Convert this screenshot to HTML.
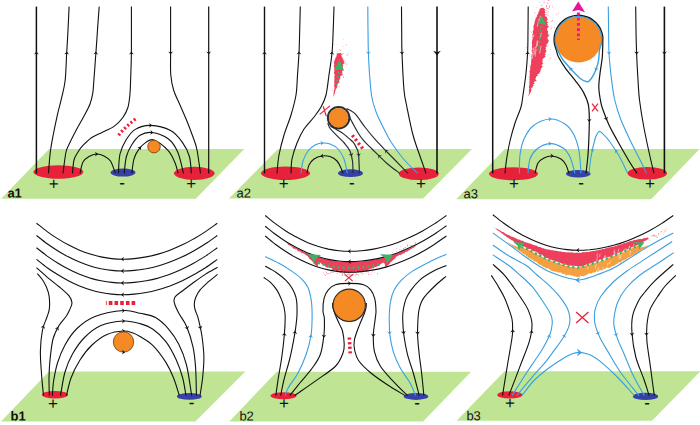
<!DOCTYPE html>
<html><head><meta charset="utf-8"><title>Figure</title>
<style>
html,body{margin:0;padding:0;background:#fff;}
body{width:700px;height:425px;overflow:hidden;}
svg{display:block;}
svg text{font-family:"Liberation Sans",sans-serif;fill:#111;text-rendering:geometricPrecision;}
</style></head><body>
<svg width="700" height="425" viewBox="0 0 700 425" stroke-linecap="butt" stroke-linejoin="round">
<rect width="700" height="425" fill="#fff"/>
<polygon points="1.2,198.7 49.1,149 244.3,149 195.8,198.7" fill="#bfe594"/>
<polygon points="228.9,198.6 278,149 472,149 423.1,198.6" fill="#bfe594"/>
<polygon points="456.2,199.2 504.9,149 699.6,149 651.2,199.2" fill="#bfe594"/>
<polygon points="1,421.4 49,371.4 245.4,371.4 195.4,421.4" fill="#bfe594"/>
<polygon points="229.3,421.4 276.8,371.8 471.1,371.8 423.1,421.4" fill="#bfe594"/>
<polygon points="456.6,420.8 504.5,371.2 700.5,371.2 652,420.8" fill="#bfe594"/>
<ellipse cx="58.4" cy="172" rx="25" ry="6.8" fill="#e8213a"/>
<ellipse cx="123" cy="172.6" rx="12.5" ry="4" fill="#3640a6"/>
<ellipse cx="194.3" cy="173.3" rx="20.3" ry="6.6" fill="#e8213a"/>
<ellipse cx="285.5" cy="173.3" rx="24.5" ry="6.7" fill="#e8213a"/>
<ellipse cx="350.5" cy="173.2" rx="12.5" ry="3.9" fill="#3640a6"/>
<ellipse cx="418.8" cy="173.8" rx="20" ry="6.3" fill="#e8213a"/>
<ellipse cx="513.5" cy="173.8" rx="24.5" ry="6.5" fill="#e8213a"/>
<ellipse cx="578.3" cy="173.7" rx="12.3" ry="3.8" fill="#3640a6"/>
<ellipse cx="647.3" cy="173.3" rx="19.7" ry="6.3" fill="#e8213a"/>
<ellipse cx="55" cy="394.8" rx="13" ry="3.8" fill="#e8213a"/>
<ellipse cx="189.3" cy="396.4" rx="12.4" ry="3.4" fill="#3640a6"/>
<ellipse cx="283.5" cy="395.7" rx="13" ry="3.5" fill="#e8213a"/>
<ellipse cx="416" cy="396.4" rx="12.3" ry="3.5" fill="#3640a6"/>
<ellipse cx="509.8" cy="394.9" rx="12.5" ry="3.6" fill="#e8213a"/>
<ellipse cx="645.5" cy="396.4" rx="12.6" ry="3.6" fill="#3640a6"/>
<path d="M36.4 6.6C36.4 14.3 36.4 25.2 36.4 53C36.4 80.8 36.4 153.3 36.4 173.4" fill="none" stroke="#111" stroke-width="1.5" />
<polygon points="36.4,51.4 34,54.5 36.4,53.5 38.8,54.5" fill="#111"/>
<path d="M69.1 6.6C68.9 10.5 68.4 22.3 68 30C67.6 37.7 67.2 44.7 66.7 53C66.2 61.3 66 72.6 65.2 80C64.4 87.4 63.1 91.5 61.8 97.2C60.5 102.9 58.9 108 57.5 114.3C56.1 120.6 54.4 128.7 53.2 135C52 141.3 51.1 145.6 50.3 152C49.5 158.4 48.8 169.8 48.5 173.4" fill="none" stroke="#111" stroke-width="1.1" />
<polygon points="66.8,51.4 64.2,54.4 66.7,53.5 69,54.6" fill="#111"/>
<path d="M99.2 6.6C98.9 10.5 98 22.3 97.5 30C97 37.7 96.5 44.7 95.9 53C95.3 61.3 94.4 73.2 93.9 80C93.4 86.8 93.4 89.7 92.7 93.7C92 97.7 91.3 100.6 90 104C88.7 107.4 87.3 110 85 114.3C82.7 118.6 79 124.9 76.4 129.8C73.8 134.7 71.2 139.8 69.5 143.5C67.8 147.2 67.1 147 66 152C64.9 157 63.5 169.8 63 173.4" fill="none" stroke="#111" stroke-width="1.1" />
<polygon points="96,51.4 93.4,54.3 95.9,53.5 98.2,54.7" fill="#111"/>
<path d="M131.4 6.6C131.4 14.3 131.5 40.8 131.4 53C131.3 65.2 130.8 73.2 130.6 80C130.4 86.8 130.4 89.1 130 93.7C129.6 98.3 129.1 103.5 127.9 107.5C126.7 111.5 125 114.6 122.7 117.8C120.4 121 117.5 124 114 126.4C110.5 128.8 105.7 130.6 102 132.4C98.3 134.2 94.9 135.4 91.8 137.5C88.7 139.6 85.5 142.8 83.2 145.2C80.9 147.6 79.5 149.5 78 152C76.5 154.5 74.9 156.4 74 160C73.1 163.6 72.8 171.2 72.5 173.4" fill="none" stroke="#111" stroke-width="1.1" />
<polygon points="131.4,51.4 129,54.5 131.4,53.5 133.8,54.5" fill="#111"/>
<path d="M170.6 6.6C170.6 14.3 170.6 41.6 170.6 53C170.6 64.4 170.3 68.8 170.8 75C171.3 81.2 172.1 85 173.6 90C175.1 95 177.8 100 180 105C182.2 110 184.3 114.7 186.5 120C188.7 125.3 191.2 132 193 137C194.8 142 195.8 143.9 197 150C198.2 156.1 199.9 169.5 200.5 173.4" fill="none" stroke="#111" stroke-width="1.1" />
<polygon points="170.6,54.6 173,51.5 170.6,52.5 168.2,51.5" fill="#111"/>
<path d="M208.7 6.6C208.7 14.3 208.7 25.2 208.7 53C208.7 80.8 208.7 153.3 208.7 173.4" fill="none" stroke="#111" stroke-width="1.2" />
<polygon points="208.7,54.6 211.1,51.5 208.7,52.5 206.3,51.5" fill="#111"/>
<path d="M80 173.4C80.5 171.5 81.5 164.8 83 162C84.5 159.2 86.8 157.8 89 156.5C91.2 155.2 94 154.1 96.5 154C99 153.9 101.7 154.8 104 156C106.3 157.2 108.6 158.1 110.5 161C112.4 163.9 114.6 171.3 115.4 173.4" fill="none" stroke="#111" stroke-width="1.1" />
<polygon points="98.1,153.9 94.9,151.7 96,154 95.1,156.4" fill="#111"/>
<path d="M118.4 173.4C118.7 170.2 118.7 159.6 120 154C121.3 148.4 123.5 144.1 126 140C128.6 135.9 131.2 131.8 135.3 129.4C139.4 127 144.7 125.2 150.6 125.4C156.5 125.6 165.3 127.8 170.6 130.6C175.9 133.4 179.3 138.1 182.4 142.4C185.5 146.7 187.9 151.3 189.4 156.5C190.9 161.7 191 170.6 191.3 173.4" fill="none" stroke="#111" stroke-width="1.1" />
<polygon points="152.2,125.5 149.2,123 150.1,125.4 149,127.7" fill="#111"/>
<path d="M124.2 173.4C124.6 170.6 125.1 161.3 126.4 156.5C127.7 151.7 129.5 148.2 131.8 144.7C134.1 141.2 136.7 137.3 140 135.3C143.3 133.3 147.1 131.9 151.8 132.5C156.5 133.1 163.9 135.6 168.2 138.8C172.5 142 175 146 177.6 151.8C180.2 157.6 182.5 169.8 183.5 173.4" fill="none" stroke="#111" stroke-width="1.1" />
<polygon points="153.4,132.7 150.6,129.9 151.3,132.4 150,134.7" fill="#111"/>
<path d="M131.8 173.4C132.2 171 132.8 162.8 134 158.8C135.2 154.8 136.8 152.1 138.8 149.4C140.8 146.7 143.4 144 145.9 142.4C148.4 140.8 150.3 138.6 154 140C157.7 141.4 164.6 146.7 168.2 150.6C171.8 154.5 173.7 159.7 175.3 163.5C176.9 167.3 177.6 171.8 178 173.4" fill="none" stroke="#111" stroke-width="1.1" />
<polygon points="141.1,146.5 137.3,147.4 139.7,148.2 141,150.5" fill="#111"/>
<circle cx="154" cy="146.6" r="6.3" fill="#f58a24" stroke="#6b3b12" stroke-width="0.8"/>
<path d="M118.6 135.2Q126.5 125.5 137 118" fill="none" stroke="#e8213a" stroke-width="3.2" stroke-dasharray="2 2.3"/>
<path d="M264.5 6.6C264.5 14.3 264.5 25.2 264.5 53C264.5 80.8 264.5 153.3 264.5 173.4" fill="none" stroke="#111" stroke-width="1.4" />
<polygon points="264.5,51.4 262.1,54.5 264.5,53.5 266.9,54.5" fill="#111"/>
<path d="M300.3 6.6C300.2 10.5 299.9 22.3 299.7 30C299.5 37.7 299.4 45.5 299 53C298.6 60.5 298 68 297.5 75C297 82 297.1 88.3 296 95C294.9 101.7 293 108.3 291 115C289 121.7 286 128.3 284 135C282 141.7 280.2 148.6 279 155C277.8 161.4 277.3 170.3 277 173.4" fill="none" stroke="#111" stroke-width="1.1" />
<polygon points="299.1,51.4 296.5,54.4 299,53.5 301.3,54.6" fill="#111"/>
<path d="M334 6.6C333.9 10.5 333.5 22.3 333.2 30C332.9 37.7 332.7 45.5 332 53C331.3 60.5 330 68 329 75C328 82 327.3 89.7 326 95C324.7 100.3 323 103.3 321 107C319 110.7 316.8 113.3 314 117C311.2 120.7 306.8 124.7 304 129C301.2 133.3 299 138 297 143C295 148 293 153.9 292 159C291 164.1 291.2 171 291 173.4" fill="none" stroke="#111" stroke-width="1.1" />
<polygon points="332.1,51.4 329.5,54.3 332,53.5 334.2,54.7" fill="#111"/>
<path d="M367.8 6.6C367.8 10.5 367.9 22.3 368 30C368.1 37.7 368.1 45.5 368.4 53C368.7 60.5 369 67.7 369.6 75C370.2 82.3 370.7 90.7 371.8 97C372.9 103.3 374.5 107.7 376.5 113C378.5 118.3 381.6 124.2 384 129C386.4 133.8 387.8 137 391 142C394.2 147 399.1 153.8 403.5 159C407.9 164.2 415.2 171 417.6 173.4" fill="none" stroke="#3a9fe0" stroke-width="1.1" />
<polygon points="368.5,54.6 370.7,51.4 368.4,52.5 365.9,51.6" fill="#3a9fe0"/>
<path d="M401.5 6.6C401.5 10.5 401.6 22.3 401.7 30C401.8 37.7 401.6 43 402 53C402.4 63 403.2 81.3 404 90C404.8 98.7 405 97.5 406.5 105C408 112.5 410.6 126 413 135C415.4 144 418.8 152.6 421 159C423.2 165.4 425.2 171 426 173.4" fill="none" stroke="#111" stroke-width="1.1" />
<polygon points="402.1,54.6 404.3,51.4 402,52.5 399.5,51.6" fill="#111"/>
<path d="M437 6.6C437 14.3 437 25.2 437 53C437 80.8 437 153.3 437 173.4" fill="none" stroke="#111" stroke-width="1.6" />
<polygon points="437,55.5 440.8,50.7 437,52.2 433.2,50.7" fill="#111"/>
<path d="M301 173.4C301.3 171.3 301.8 164.7 303 161C304.2 157.3 306 153.7 308 151C310 148.3 312.7 146.3 315 145C317.3 143.7 319.5 143.2 322 143C324.5 142.8 327.3 143 330 144C332.7 145 335.7 146.5 338 149C340.3 151.5 342.4 154.9 344 159C345.6 163.1 346.8 171 347.4 173.4" fill="none" stroke="#3a9fe0" stroke-width="1.1" />
<polygon points="323.6,142.9 320.3,140.7 321.5,143 320.7,145.5" fill="#3a9fe0"/>
<path d="M307 173.4C307.3 172 307.8 167.4 309 165C310.2 162.6 311.8 160.5 314 159C316.2 157.5 319.3 156.4 322 156C324.7 155.6 327.5 155.8 330 156.6C332.5 157.4 335.2 159.1 337 161C338.8 162.9 340 165.9 341 168C342 170.1 342.7 172.5 343 173.4" fill="none" stroke="#111" stroke-width="1.1" />
<polygon points="320.4,156.2 323.8,158.2 322.5,155.9 323.1,153.4" fill="#111"/>
<path d="M346.5 108.6C347.2 108.9 349 109.5 350.5 110.5C352 111.5 353.3 111.7 355.7 114.4C358.1 117.2 361.5 122.6 364.9 127C368.3 131.4 372.4 136.4 376.3 140.7C380.2 145 385.1 149.9 388 153C390.9 156.1 390.7 155.6 394 159C397.3 162.4 405.7 171 408 173.4" fill="none" stroke="#2a2d35" stroke-width="1.2" />
<polygon points="384.9,149.8 385.4,153.7 386.4,151.3 388.8,150.4" fill="#2a2d35"/>
<path d="M349.3 115C349.5 115.6 349.8 117.3 350.3 118.5C350.8 119.7 351 120 352.3 122.4C353.6 124.8 356.1 129.6 358 132.7C359.9 135.8 361.4 138 363.7 140.7C366 143.4 368.1 145.2 372 149C375.9 152.8 382.3 159.4 387 163.5C391.7 167.6 397.8 171.8 400 173.4" fill="none" stroke="#2a2d35" stroke-width="1.2" />
<polygon points="378.1,155.1 378.6,158.9 379.6,156.5 382,155.5" fill="#2a2d35"/>
<path d="M327.8 123C328.1 123.8 328.6 126.1 329.5 127.5C330.4 128.9 331.2 129.8 332.9 131.6C334.6 133.4 337.8 136.5 339.7 138.4C341.6 140.3 342.6 140.9 344.3 143C346 145.1 348.6 148 350 151C351.4 154 352 157.3 352.5 161C353 164.7 352.9 171.3 353 173.4" fill="none" stroke="#2a2d35" stroke-width="1.2" />
<polygon points="351.7,156.4 353.3,152.7 351.2,154.3 348.6,154" fill="#2a2d35"/>
<path d="M330.5 126.2C331.2 126.6 332.7 127.5 334.6 128.6C336.5 129.7 339.6 131.1 342 132.7C344.4 134.3 347 136.8 348.9 138.4C350.8 140 352 140.6 353.4 142.4C354.8 144.2 356.1 146.9 357 149C357.9 151.1 358.2 150.9 358.6 155C359 159.1 359.3 170.3 359.4 173.4" fill="none" stroke="#2a2d35" stroke-width="1.2" />
<polygon points="358.8,156.6 360.8,153.3 358.5,154.5 356.1,153.7" fill="#2a2d35"/>
<circle cx="338.6" cy="117.7" r="10.7" fill="none" stroke="#2a2d35" stroke-width="2.1"/>
<circle cx="338.6" cy="117.7" r="9.8" fill="#f58a24"/>
<path d="M352.3 135.2L363.5 149.6" fill="none" stroke="#e8213a" stroke-width="3.4" stroke-dasharray="2.2 2.7"/>
<path d="M319.7 114.4L330 105.9M323.2 106.2L326.3 116.3" fill="none" stroke="#e8213a" stroke-width="1.2"/>
<polygon points="333.3,97.3 333.5,96.4 333.5,95.5 333.5,94.6 333.5,93.7 333.6,92.8 333.9,91.9 333.8,91 334.2,90.1 334.2,89.2 334.6,88.3 334.6,87.4 334.1,86.5 334.2,85.6 334.1,84.7 334.5,83.8 334.4,82.9 334,82 334.5,81.1 334.3,80.2 334.4,79.3 334.6,78.4 334.2,77.5 334.4,76.6 334.6,75.7 334.8,74.8 334.3,73.9 334.1,73 333.9,72.1 334.5,71.2 334.5,70.3 334.4,69.4 334.2,68.5 334.4,67.6 334.1,66.7 333.7,65.8 334.2,64.9 334.3,64 333.9,63.1 333.9,62.2 334.3,61.3 334.5,60.4 334.9,59.5 335.4,58.6 335.5,57.7 336.1,56.8 336.7,55.9 336.5,55 336.9,54.1 337.7,53.2 342.2,52.7 340.5,53.6 342,54.5 341.1,55.4 341.3,56.3 342.7,57.2 341.9,58.1 343.7,59 342.6,59.9 344.6,60.8 344,61.7 343.6,62.6 344.5,63.5 342.5,64.4 343.1,65.3 343,66.2 342.1,67.1 343.3,68 342.7,68.9 343.3,69.8 342.5,70.7 342.1,71.6 342.4,72.5 341.5,73.4 343,74.3 342.2,75.2 340.2,76.1 340.6,77 339.8,77.9 340.4,78.8 339.2,79.7 339.2,80.6 339.3,81.5 339.3,82.4 338.2,83.3 337.4,84.2 336.6,85.1 337.5,86 336.9,86.9 337,87.8 336.2,88.7 335.3,89.6 335.8,90.5 334.9,91.4 335.2,92.3 334.7,93.2 334.4,94.1 334.1,95 333.9,95.9 333.6,96.8" fill="#ee3f5c"/>
<path d="M342.3 62.9h0.4v0.4h-0.4zM337.4 80.5h0.4v0.4h-0.4zM341.6 54.7h0.5v0.5h-0.5zM331.8 89.9h0.6v0.6h-0.6zM336.4 80.9h0.6v0.6h-0.6zM345.8 44.5h0.7v0.7h-0.7zM337.7 51.6h0.5v0.5h-0.5zM339.7 70.2h0.6v0.6h-0.6zM340.6 62.3h0.4v0.4h-0.4zM343 61.3h0.3v0.3h-0.3zM340.6 59.8h0.4v0.4h-0.4zM339.8 67.7h0.7v0.7h-0.7zM337.4 70.4h0.4v0.4h-0.4zM341.1 72.4h0.4v0.4h-0.4zM334.4 44.6h0.5v0.5h-0.5zM338.8 70.6h0.4v0.4h-0.4zM340.9 71.1h0.7v0.7h-0.7zM340.3 64.9h0.8v0.8h-0.8zM338.1 71.9h0.6v0.6h-0.6zM342.5 53h0.8v0.8h-0.8zM337.5 54.4h0.4v0.4h-0.4zM340.2 70.6h0.7v0.7h-0.7zM335.1 84.2h0.5v0.5h-0.5zM346.1 63.7h0.8v0.8h-0.8zM336.7 53.4h0.7v0.7h-0.7zM337 66.1h0.6v0.6h-0.6zM339.9 67.7h0.3v0.3h-0.3zM341.8 68h0.6v0.6h-0.6zM340.5 54.5h0.8v0.8h-0.8zM343.6 39h0.5v0.5h-0.5zM342.1 65h0.4v0.4h-0.4zM344.7 62.5h0.8v0.8h-0.8zM337.4 58.8h0.6v0.6h-0.6zM338.4 64.4h0.6v0.6h-0.6zM339.2 49.5h0.7v0.7h-0.7zM338.6 72.8h0.7v0.7h-0.7zM343 76.6h0.8v0.8h-0.8zM340 75.1h0.8v0.8h-0.8zM337.3 66.7h0.4v0.4h-0.4zM347.8 53.4h0.7v0.7h-0.7zM346.7 54.6h0.8v0.8h-0.8zM335.9 71.1h0.6v0.6h-0.6zM340.1 64.8h0.8v0.8h-0.8zM334.8 73.2h0.8v0.8h-0.8zM338.7 86.6h0.7v0.7h-0.7zM342.3 64.4h0.4v0.4h-0.4zM344.1 65.9h0.4v0.4h-0.4zM339.5 71.2h0.8v0.8h-0.8zM341.2 73.8h0.6v0.6h-0.6zM339.2 56.3h0.8v0.8h-0.8zM337.1 79.3h0.6v0.6h-0.6zM342 54.5h0.4v0.4h-0.4zM343.1 46.6h0.4v0.4h-0.4zM337.4 83.3h0.6v0.6h-0.6zM342 72.7h0.6v0.6h-0.6zM338.1 64.6h0.6v0.6h-0.6zM342.2 66.4h0.7v0.7h-0.7zM336.8 79.9h0.7v0.7h-0.7zM339.4 55.7h0.6v0.6h-0.6zM337.1 78.9h0.6v0.6h-0.6zM338.5 79h0.5v0.5h-0.5zM340.4 50h0.7v0.7h-0.7zM340 58h0.6v0.6h-0.6zM340.7 46.2h0.4v0.4h-0.4zM343.5 58h0.3v0.3h-0.3zM340.8 66h0.6v0.6h-0.6zM333.4 59.9h0.4v0.4h-0.4zM334.1 68.5h0.4v0.4h-0.4zM337.3 43.9h0.4v0.4h-0.4zM340.3 55.4h0.5v0.5h-0.5z" fill="#ee3f5c"/>
<path d="M336.4 85.5L338.8 72" fill="none" stroke="#3cb265" stroke-width="1.9" stroke-dasharray="2 1.9"/>
<polygon points="339.5,59.9 344.2,70.8 339.2,69.4 334,70.6" fill="#3cb265"/>
<path d="M492.7 6.6C492.7 14.3 492.7 25.2 492.7 53C492.7 80.8 492.7 153.3 492.7 173.4" fill="none" stroke="#111" stroke-width="1.5" />
<polygon points="492.7,51.4 490.3,54.5 492.7,53.5 495.1,54.5" fill="#111"/>
<path d="M528.2 6.6C528.2 10.5 528.1 22.3 528 30C527.9 37.7 528 45.5 527.6 53C527.2 60.5 526.6 68 525.8 75C525 82 523.8 89.7 523 95C522.2 100.3 522.3 102.3 521 107C519.7 111.7 516.8 117.3 515 123C513.2 128.7 511.4 135 510 141C508.6 147 507.4 153.6 506.6 159C505.8 164.4 505.3 171 505 173.4" fill="none" stroke="#111" stroke-width="1.1" />
<polygon points="527.7,51.4 525.1,54.4 527.6,53.5 529.9,54.6" fill="#111"/>
<path d="M608.3 6.6C608.3 10.5 608.5 22.3 608.6 30C608.7 37.7 608.6 45.5 609 53C609.4 60.5 610.1 67.3 611 75C611.9 82.7 612.9 91.7 614.5 99C616.1 106.3 617.9 111.8 620.6 119C623.4 126.2 627.7 135 631 142C634.3 149 638 155.8 640.6 161C643.2 166.2 645.5 171.3 646.5 173.4" fill="none" stroke="#3a9fe0" stroke-width="1.1" />
<polygon points="609.1,54.6 611.3,51.4 609,52.5 606.5,51.6" fill="#3a9fe0"/>
<path d="M635.7 6.6C635.8 10.5 635.9 22.3 636 30C636.1 37.7 636.3 44.7 636.6 53C636.9 61.3 637.5 72.2 638 80C638.5 87.8 638.5 92 639.5 100C640.5 108 642.2 118.6 644 128C645.8 137.4 648.3 148.9 650 156.5C651.7 164.1 653.3 170.6 654 173.4" fill="none" stroke="#111" stroke-width="1.1" />
<polygon points="636.7,54.6 638.9,51.4 636.6,52.5 634.1,51.6" fill="#111"/>
<path d="M664.4 6.6C664.4 14.3 664.4 25.2 664.4 53C664.4 80.8 664.4 153.3 664.4 173.4" fill="none" stroke="#111" stroke-width="1.6" />
<polygon points="664.4,54.6 666.8,51.5 664.4,52.5 662,51.5" fill="#111"/>
<path d="M519.4 173.4C519.5 170.3 519.2 160.7 520 155C520.8 149.3 521.8 143.8 524 139C526.2 134.2 528.7 129.3 533 126C537.3 122.7 544.7 119.3 550 119C555.3 118.7 561 121.3 565 124C569 126.7 571.7 130.5 574 135C576.3 139.5 577.8 144.6 579 151C580.2 157.4 580.7 169.7 581 173.4" fill="none" stroke="#3a9fe0" stroke-width="1.1" />
<polygon points="551.6,118.9 548.4,116.7 549.5,119 548.7,121.5" fill="#3a9fe0"/>
<path d="M528 173.4C528.3 171 528.5 163.1 530 159C531.5 154.9 533.7 151.6 537 149C540.3 146.4 545.7 143.8 550 143.6C554.3 143.4 559.7 145.8 563 148C566.3 150.2 568 152.8 570 157C572 161.2 574.2 170.7 575 173.4" fill="none" stroke="#3a9fe0" stroke-width="1.1" />
<polygon points="551.6,143.5 548.4,141.3 549.5,143.6 548.6,146.1" fill="#3a9fe0"/>
<path d="M535 173.4C535.5 171.7 536.5 165.6 538 163C539.5 160.4 541.7 159.2 544 158C546.3 156.8 549.2 155.8 552 156C554.8 156.2 558.7 157.5 561 159C563.3 160.5 564.7 162.6 566 165C567.3 167.4 568.5 172 569 173.4" fill="none" stroke="#111" stroke-width="1.1" />
<polygon points="553.6,156.1 550.6,153.5 551.5,156 550.4,158.3" fill="#111"/>
<path d="M589 173.4C589.3 170.7 590 162.7 591 157C592 151.3 593.9 142.9 595 139C596.1 135.1 596.8 134.8 597.5 133.5C598.2 132.2 598.6 131.5 599.4 131.4C600.1 131.3 601.1 132.2 602 133C602.9 133.8 603.7 134.5 605 136C606.3 137.5 607.6 138.6 610 142C612.4 145.4 616.4 151.3 619.4 156.5C622.4 161.7 626.3 170.6 627.7 173.4" fill="none" stroke="#3a9fe0" stroke-width="1.1" />
<polygon points="592,152 595,149.5 592.4,149.9 590.3,148.5" fill="#3a9fe0"/>
<polygon points="615.2,149.8 614.8,153.7 616.3,151.5 618.8,151.1" fill="#3a9fe0"/>
<circle cx="578.5" cy="39.7" r="22.9" fill="#f58a24"/>
<path d="M587 81.8C585.3 81.5 582.7 80.4 580 78.2C577.3 76 573.6 72.1 570.6 68.8C567.6 65.5 564 61.4 562 58.5C560 55.6 559.4 53.6 558.3 51.4C557.3 49.1 556.3 47.2 555.8 45C555.3 42.8 555.1 40.5 555.2 38.2C555.4 36 555.9 33.7 556.7 31.6C557.4 29.5 558.6 27.4 559.9 25.6C561.3 23.8 563 22.2 564.8 20.9C566.6 19.5 568.7 18.4 570.8 17.7C572.9 17 575.2 16.5 577.5 16.4C579.7 16.3 582.1 16.6 584.2 17.1C586.4 17.7 588.6 18.6 590.5 19.7C592.4 20.9 594.3 22.4 595.8 24.1C597.3 25.7 598.6 27.7 599.6 29.7C600.5 31.7 601.2 34 601.5 36.2C601.9 38.4 601.9 40.8 601.6 43C601.2 45.2 600.1 46.7 599.6 49.5C599.1 52.4 599.1 56.9 598.6 60C598.1 63.1 597.4 65.3 596.5 68C595.6 70.7 594.1 73.9 593 75.9C591.9 77.9 591 79 590 80C589 81 588.7 82.1 587 81.8Z" fill="none" stroke="#3a9fe0" stroke-width="1.4"/>
<polygon points="569.5,67.6 569.8,71.5 570.9,69.2 573.4,68.3" fill="#3a9fe0"/>
<polygon points="595.5,70.7 598.8,68.7 596.2,68.8 594.3,67" fill="#3a9fe0"/>
<path d="M586 173.4C586.3 170.3 587.5 161.4 588 155C588.5 148.6 588.8 141.2 589 135C589.2 128.8 589.4 123.2 589.3 118C589.2 112.8 589.2 108.3 588.2 104C587.2 99.7 585.6 96.3 583.5 92.4C581.4 88.5 578.2 84.5 575.3 80.6C572.4 76.7 568.7 72.7 565.9 68.8C563.1 64.9 560.1 60.1 558.5 57C556.9 53.9 557 52.2 556.3 50.1C555.6 47.9 554.7 46 554.4 43.9C554 41.8 553.9 39.6 554.1 37.4C554.3 35.3 554.8 33.1 555.5 31.1C556.3 29.1 557.3 27.2 558.6 25.4C559.8 23.7 561.3 22.1 563 20.7C564.6 19.4 566.5 18.2 568.5 17.3C570.4 16.5 572.6 15.8 574.7 15.5C576.8 15.2 579 15.1 581.1 15.3C583.2 15.6 585.4 16.1 587.4 16.9C589.4 17.6 591.3 18.7 593 20C594.8 21.3 596.4 22.8 597.7 24.5C599 26.1 600.2 28.1 601 30C601.8 32 602.5 34.1 602.8 36.2C603.1 38.3 602.8 40.4 602.8 42.7C602.8 45 602.7 47.4 602.6 50C602.5 52.6 602.6 54.1 602.2 58C601.8 61.9 600.6 68.6 600 73.5C599.4 78.4 598.7 82.9 598.8 87.6C598.9 92.3 600 98.1 600.7 101.8C601.4 105.5 601.6 106.1 603 110C604.4 113.9 606.7 120 609 125C611.3 130 613.7 134 617 140C620.3 146 625.7 155.4 629 161C632.3 166.6 635.7 171.3 637 173.4" fill="none" stroke="#111" stroke-width="1.2" />
<polygon points="589.3,122 591.7,118.8 589.3,119.9 586.9,118.9" fill="#111"/>
<polygon points="606.9,120.2 607.9,116.4 606.1,118.2 603.5,118.2" fill="#111"/>
<path d="M578.4 12.6V40" stroke="#e6159a" stroke-width="2.9" stroke-dasharray="2.8 2.4" fill="none"/>
<polygon points="578.3,1.5 585,12.2 578.3,10 572,11.6" fill="#e6159a"/>
<path d="M592 103.7L598 111.3M598 103.7L592 111.3" stroke="#e8213a" stroke-width="1.2" fill="none"/>
<polygon points="528.6,96.5 528.6,95.6 528.8,94.7 528.7,93.8 529.1,92.9 529.1,92 528.7,91.1 529.3,90.2 528.8,89.3 529.5,88.4 528.9,87.5 528.9,86.6 529.2,85.7 529.3,84.8 529.7,83.9 529.2,83 529.6,82.1 529.2,81.2 529.7,80.3 529.2,79.4 529.8,78.5 529.3,77.6 529.3,76.7 529.7,75.8 529.8,74.9 529.6,74 529.9,73.1 529.5,72.2 529.5,71.3 529.8,70.4 530.3,69.5 530.2,68.6 530.2,67.7 530.2,66.8 530.8,65.9 530.4,65 531.2,64.1 531.2,63.2 531,62.3 531,61.4 531.4,60.5 531.2,59.6 531.6,58.7 531.5,57.8 531.3,56.9 531.4,56 531.7,55.1 531.7,54.2 532.4,53.3 531.9,52.4 531.9,51.5 531.8,50.6 531.9,49.7 532.6,48.8 531.9,47.9 532,47 531.8,46.1 532.2,45.2 532,44.3 531.8,43.4 531.9,42.5 531.9,41.6 532.2,40.7 532.4,39.8 532.6,38.9 532.6,38 532.3,37.1 532.9,36.2 532.6,35.3 532.1,34.4 533,33.5 533,32.6 532.6,31.7 533.1,30.8 533.5,29.9 533.5,29 533.7,28.1 533.4,27.2 533.5,26.3 533.6,25.4 534.2,24.5 534.4,23.6 534.4,22.7 534.8,21.8 534.7,20.9 535.2,20 535.7,19.1 535.5,18.2 536.5,17.3 536.9,16.4 537.1,15.5 537.5,14.6 538.1,13.7 538.4,12.8 538.4,11.9 539.3,11 539.6,10.1 539.5,9.2 540.5,8.3 543.2,7.8 544.2,8.7 545.1,9.6 544.6,10.5 545,11.4 545.7,12.3 544.6,13.2 544.7,14.1 545.8,15 544.5,15.9 546.8,16.8 546.9,17.7 547.2,18.6 547.9,19.5 547,20.4 546.5,21.3 548.6,22.2 546.9,23.1 547.2,24 546.7,24.9 548.1,25.8 549,26.7 547.4,27.6 547,28.5 547.2,29.4 547.3,30.3 548.2,31.2 547.6,32.1 548.2,33 547.7,33.9 548.3,34.8 549.5,35.7 548.9,36.6 547.3,37.5 547.7,38.4 547.9,39.3 548.5,40.2 548.9,41.1 547.8,42 548,42.9 547.2,43.8 547.1,44.7 547.3,45.6 547.2,46.5 545.5,47.4 546.4,48.3 545.2,49.2 546.4,50.1 546.2,51 546.6,51.9 545.4,52.8 544.7,53.7 546.2,54.6 544.4,55.5 545.7,56.4 544.8,57.3 543.7,58.2 542.9,59.1 542.2,60 543.1,60.9 542,61.8 542.7,62.7 543.3,63.6 542,64.5 541.5,65.4 542.6,66.3 542.2,67.2 541.5,68.1 540.9,69 540.6,69.9 540.5,70.8 540.2,71.7 539.6,72.6 539.5,73.5 537.1,74.4 538.2,75.3 536.5,76.2 536.1,77.1 535.9,78 535.1,78.9 536.1,79.8 536.6,80.7 534.6,81.6 533.6,82.5 535,83.4 532.8,84.3 534.4,85.2 532.4,86.1 533.1,87 531.4,87.9 531,88.8 531.5,89.7 531.3,90.6 530.8,91.5 530.7,92.4 530,93.3 529.6,94.2 529.1,95.1 528.9,96" fill="#ee3f5c"/>
<path d="M537.1 46.4l0.9 -5.6M540.6 36.3l0.6 -3.6M534.9 56.9l1.3 -7.9M532.2 58.9l0.9 -5.3M546.2 53.4l0.9 -5.2M537.3 26.9l1.3 -7.7M542.6 24.1l0.6 -3.7M548.1 39.2l0.6 -3.7M539.7 53.4l1.3 -7.4M536.1 47.8l1.3 -7.5M533.4 37.3l0.5 -3M540.2 37.6l0.8 -4.5M539.6 20.8l0.8 -4.6M532.6 54.3l1.1 -6.8M534.2 54.3l1.3 -7.6M546 48.2l0.8 -4.4" stroke="#fff" stroke-width="0.7" fill="none" opacity="0.75"/>
<path d="M542.5 44.4h0.8v0.8h-0.8zM535.5 45.3h0.5v0.5h-0.5zM542.5 31.3h0.4v0.4h-0.4zM538.6 21.1h0.8v0.8h-0.8zM545.3 30.7h0.6v0.6h-0.6zM547.1 23.8h0.8v0.8h-0.8zM539.2 1.9h0.6v0.6h-0.6zM541.4 -11.2h0.6v0.6h-0.6zM539.1 30.9h0.7v0.7h-0.7zM538.2 61.9h0.6v0.6h-0.6zM542.4 31.7h0.8v0.8h-0.8zM548.1 15.3h0.5v0.5h-0.5zM547.8 41h0.8v0.8h-0.8zM548.6 33.2h0.5v0.5h-0.5zM535.8 48.1h0.4v0.4h-0.4zM545.4 23.5h0.8v0.8h-0.8zM538.6 43.9h0.8v0.8h-0.8zM544.7 8.4h0.4v0.4h-0.4zM543.7 27.3h0.5v0.5h-0.5zM545.3 18.1h0.4v0.4h-0.4zM529.6 66.4h0.7v0.7h-0.7zM540.9 47.9h0.6v0.6h-0.6zM542.2 43.4h0.3v0.3h-0.3zM553.4 41.3h0.4v0.4h-0.4zM535.9 57.7h0.7v0.7h-0.7zM545.8 27.4h0.4v0.4h-0.4zM541.4 47.9h0.8v0.8h-0.8zM536.1 5.2h0.3v0.3h-0.3zM548.1 -0h0.7v0.7h-0.7zM537.6 56h0.3v0.3h-0.3zM542.6 66.4h0.7v0.7h-0.7zM535.3 -4.5h0.4v0.4h-0.4zM544.5 21.5h0.6v0.6h-0.6zM525.8 47.4h0.7v0.7h-0.7zM530.1 48.8h0.5v0.5h-0.5zM539.6 35.2h0.7v0.7h-0.7zM554 27.3h0.6v0.6h-0.6zM543.1 33.9h0.4v0.4h-0.4zM531.1 48.9h0.4v0.4h-0.4zM547.7 8.8h0.6v0.6h-0.6zM541.6 41.1h0.6v0.6h-0.6zM544.2 13.4h0.5v0.5h-0.5zM543.8 2.3h0.7v0.7h-0.7zM539.1 44.3h0.4v0.4h-0.4zM544.2 -0.2h0.5v0.5h-0.5zM545.9 7.2h0.6v0.6h-0.6zM540.7 43.7h0.6v0.6h-0.6zM541.5 17.1h0.3v0.3h-0.3zM543.9 41.7h0.6v0.6h-0.6zM552.2 20.3h0.7v0.7h-0.7zM538.5 43.3h0.8v0.8h-0.8zM547.9 45.4h0.4v0.4h-0.4zM551.1 25.6h0.4v0.4h-0.4zM543 7.7h0.4v0.4h-0.4zM547.1 27.6h0.6v0.6h-0.6zM541.9 19.3h0.5v0.5h-0.5zM557.4 20.2h0.4v0.4h-0.4zM542.8 23.5h0.5v0.5h-0.5zM540.1 -4h0.7v0.7h-0.7zM548.8 -15.6h0.5v0.5h-0.5zM555.9 13.9h0.7v0.7h-0.7zM547.6 1.8h0.5v0.5h-0.5zM542.3 43h0.4v0.4h-0.4zM543.9 14.1h0.5v0.5h-0.5zM541.9 20.1h0.8v0.8h-0.8zM546.8 26h0.7v0.7h-0.7zM537.4 19.9h0.3v0.3h-0.3zM538.6 48.9h0.8v0.8h-0.8zM547 24.3h0.7v0.7h-0.7zM545.6 10.3h0.7v0.7h-0.7zM539.6 29.1h0.3v0.3h-0.3zM552.9 -10.1h0.4v0.4h-0.4zM529.3 28.7h0.5v0.5h-0.5zM553.3 39.3h0.6v0.6h-0.6zM549.2 33.9h0.5v0.5h-0.5zM541.4 30.4h0.7v0.7h-0.7zM541.4 5.2h0.8v0.8h-0.8zM544.1 15.9h0.5v0.5h-0.5zM545.7 -17.7h0.5v0.5h-0.5zM546.7 31.1h0.5v0.5h-0.5zM541.5 18.5h0.7v0.7h-0.7zM530.5 30.9h0.7v0.7h-0.7zM535.6 43.2h0.5v0.5h-0.5zM544.3 53.5h0.3v0.3h-0.3zM551.5 20.8h0.4v0.4h-0.4zM542.4 25.4h0.6v0.6h-0.6zM550 57.7h0.7v0.7h-0.7zM543.4 14.5h0.3v0.3h-0.3zM548 11.6h0.7v0.7h-0.7zM539.9 43.8h0.5v0.5h-0.5zM531.7 50.5h0.7v0.7h-0.7zM537.4 12.2h0.4v0.4h-0.4zM538.8 20.5h0.6v0.6h-0.6zM543.4 53.6h0.4v0.4h-0.4zM545.1 30.5h0.4v0.4h-0.4zM539.7 9.8h0.5v0.5h-0.5zM542.7 80.7h0.6v0.6h-0.6zM551.5 27.5h0.6v0.6h-0.6zM542.5 20.8h0.5v0.5h-0.5zM534.4 12.5h0.8v0.8h-0.8zM544.9 14.3h0.4v0.4h-0.4zM558 12.8h0.6v0.6h-0.6zM541.8 12.4h0.7v0.7h-0.7zM539.8 44.7h0.7v0.7h-0.7zM541.7 21.1h0.6v0.6h-0.6zM536.6 39.6h0.5v0.5h-0.5zM545.3 22.1h0.4v0.4h-0.4zM532.3 52.4h0.4v0.4h-0.4zM544.4 12.6h0.6v0.6h-0.6zM546.5 24h0.4v0.4h-0.4zM535.7 21.9h0.3v0.3h-0.3zM547 14.7h0.6v0.6h-0.6zM538.2 35.2h0.4v0.4h-0.4zM534.6 35.9h0.4v0.4h-0.4zM550.5 49.5h0.5v0.5h-0.5zM535.9 46.6h0.5v0.5h-0.5zM534.9 -16.1h0.5v0.5h-0.5zM551.1 21.1h0.4v0.4h-0.4zM548.9 -12.3h0.5v0.5h-0.5zM537.5 20.5h0.7v0.7h-0.7zM539.8 41.5h0.3v0.3h-0.3zM533.8 56.3h0.8v0.8h-0.8zM549.1 7.4h0.5v0.5h-0.5zM539 41h0.4v0.4h-0.4zM531.5 74.2h0.4v0.4h-0.4zM535.3 65.6h0.8v0.8h-0.8zM544.3 27.1h0.8v0.8h-0.8zM544 7.5h0.3v0.3h-0.3zM541.7 12.1h0.8v0.8h-0.8zM529.4 55.5h0.4v0.4h-0.4zM537.8 26.2h0.5v0.5h-0.5zM536.3 7.5h0.4v0.4h-0.4zM547.1 27h0.6v0.6h-0.6zM541.5 37.8h0.4v0.4h-0.4zM528.4 34.6h0.3v0.3h-0.3zM532.1 60h0.3v0.3h-0.3zM539.6 24.4h0.6v0.6h-0.6zM534 55.9h0.5v0.5h-0.5zM540.4 53.4h0.5v0.5h-0.5zM534 40.7h0.5v0.5h-0.5zM546.9 3.1h0.5v0.5h-0.5zM550.7 28.5h0.7v0.7h-0.7zM539.8 42.1h0.5v0.5h-0.5zM544.2 22.2h0.5v0.5h-0.5zM547.3 12.7h0.6v0.6h-0.6zM547.7 3.2h0.3v0.3h-0.3zM531 31.9h0.6v0.6h-0.6zM547 8.4h0.5v0.5h-0.5zM541.9 19.7h0.7v0.7h-0.7zM546.4 -2h0.7v0.7h-0.7z" fill="#ee3f5c"/>
<path d="M552.6 7.3h0.5v0.5h-0.5zM549.3 -0h0.4v0.4h-0.4zM543.2 3.8h0.3v0.3h-0.3zM546.4 12.8h0.4v0.4h-0.4zM546.4 5.3h0.7v0.7h-0.7zM549.1 6.4h0.8v0.8h-0.8zM547.7 8.1h0.6v0.6h-0.6zM546.2 8.6h0.4v0.4h-0.4zM551.9 5.7h0.6v0.6h-0.6zM546.3 6h0.7v0.7h-0.7zM549.3 5.6h0.6v0.6h-0.6zM546.1 14h0.6v0.6h-0.6zM540.6 13.3h0.4v0.4h-0.4zM548.7 3.1h0.5v0.5h-0.5z" fill="#ee3f5c"/>
<path d="M538.6 50.6L541.4 26" fill="none" stroke="#3cb265" stroke-width="1.8" stroke-dasharray="1.9 1.9"/>
<polygon points="541.5,15.3 546.4,25.2 541.4,23.8 537.8,24.7" fill="#3cb265"/>
<path d="M36.5 223.2C38.3 224.6 43.7 229 47.2 231.6C50.8 234.3 54.4 236.7 58 238.9C61.6 241.2 65.2 243.3 68.8 245.1C72.3 247 75.9 248.7 79.5 250.2C83.1 251.7 86.7 253 90.2 254.1C93.8 255.3 97.4 256.2 101 256.9C104.6 257.7 108.2 258.3 111.8 258.6C115.3 259 118.7 259.2 122.5 259.2C126.3 259.2 130.4 259 134.3 258.6C138.3 258.3 142.2 257.7 146.2 256.9C150.1 256.2 154.1 255.3 158.1 254.1C162 253 166 251.7 169.9 250.2C173.8 248.7 177.8 247 181.8 245.1C185.7 243.3 189.7 241.2 193.6 238.9C197.6 236.7 201.5 234.3 205.5 231.6C209.4 229 215.3 224.6 217.3 223.2" fill="none" stroke="#111" stroke-width="1.1" />
<polygon points="120.9,259.2 124,261.6 123,259.2 124,256.8" fill="#111"/>
<path d="M36.5 235.5C38.3 236.9 43.7 241.2 47.2 243.8C50.8 246.4 54.4 248.8 58 251C61.6 253.2 65.2 255.3 68.8 257.1C72.3 259 75.9 260.6 79.5 262.1C83.1 263.6 86.7 264.9 90.2 266C93.8 267.1 97.4 268 101 268.8C104.6 269.5 108.2 270.1 111.8 270.4C115.3 270.8 118.7 271 122.5 271C126.3 271 130.4 270.8 134.3 270.4C138.3 270.1 142.2 269.5 146.2 268.8C150.1 268 154.1 267.1 158.1 266C162 264.9 166 263.6 169.9 262.1C173.8 260.6 177.8 259 181.8 257.1C185.7 255.3 189.7 253.2 193.6 251C197.6 248.8 201.5 246.4 205.5 243.8C209.4 241.2 215.3 236.9 217.3 235.5" fill="none" stroke="#111" stroke-width="1.1" />
<polygon points="120.9,271 124,273.4 123,271 124,268.6" fill="#111"/>
<path d="M36.5 247.8C38.3 249.2 43.7 253.5 47.2 256.1C50.8 258.6 54.4 261 58 263.2C61.6 265.4 65.2 267.4 68.8 269.2C72.3 271.1 75.9 272.7 79.5 274.2C83.1 275.7 86.7 276.9 90.2 278.1C93.8 279.2 97.4 280.1 101 280.8C104.6 281.5 108.2 282.1 111.8 282.4C115.3 282.8 118.7 283 122.5 283C126.3 283 130.4 282.8 134.3 282.4C138.3 282.1 142.2 281.5 146.2 280.8C150.1 280.1 154.1 279.2 158.1 278.1C162 276.9 166 275.7 169.9 274.2C173.8 272.7 177.8 271.1 181.8 269.2C185.7 267.4 189.7 265.4 193.6 263.2C197.6 261 201.5 258.6 205.5 256.1C209.4 253.5 215.3 249.2 217.3 247.8" fill="none" stroke="#111" stroke-width="1.1" />
<polygon points="120.9,283 124,285.4 123,283 124,280.6" fill="#111"/>
<path d="M36.5 259.4C38.3 260.8 43.7 265.1 47.2 267.7C50.8 270.2 54.4 272.6 58 274.8C61.6 277.1 65.2 279.1 68.8 280.9C72.3 282.7 75.9 284.4 79.5 285.9C83.1 287.3 86.7 288.6 90.2 289.7C93.8 290.8 97.4 291.8 101 292.5C104.6 293.2 108.2 293.8 111.8 294.1C115.3 294.5 118.7 294.7 122.5 294.7C126.3 294.7 130.4 294.5 134.3 294.1C138.3 293.8 142.2 293.2 146.2 292.5C150.1 291.8 154.1 290.8 158.1 289.7C162 288.6 166 287.3 169.9 285.9C173.8 284.4 177.8 282.7 181.8 280.9C185.7 279.1 189.7 277.1 193.6 274.8C197.6 272.6 201.5 270.2 205.5 267.7C209.4 265.1 215.3 260.8 217.3 259.4" fill="none" stroke="#111" stroke-width="1.1" />
<polygon points="120.9,294.7 124,297.1 123,294.7 124,292.3" fill="#111"/>
<path d="M36.5 267.7C38.2 269.2 43 273.6 46.8 276.8C50.6 280 55.7 283.9 59.4 287C63.1 290.1 66.8 293.1 68.9 295.7C71 298.3 71.9 300.4 72 302.8C72.1 305.2 70.6 307.5 69.6 309.9C68.5 312.3 67.5 314.4 65.7 317C63.9 319.6 61.1 321.8 59 325.5C56.9 329.2 54.5 333.2 53 339C51.5 344.8 50.7 353.5 50 360C49.3 366.5 49.1 372.1 49 378C48.9 383.9 49.3 392.7 49.4 395.6" fill="none" stroke="#111" stroke-width="1.1" />
<polygon points="58.2,326.9 54.6,328.5 57.1,328.8 58.8,330.8" fill="#111"/>
<path d="M37.3 273.6C38.3 274.9 41.8 278.3 43.6 281.5C45.5 284.7 47.4 289.2 48.4 292.6C49.4 296 49.5 299.1 49.6 302C49.7 304.9 49.6 307.4 49.2 309.9C48.8 312.4 48.1 313.6 47 317C45.9 320.4 43.6 324.3 42.5 330C41.4 335.7 40.5 343.5 40.4 351C40.2 358.5 41.1 367.6 41.6 375C42.1 382.4 43.2 392.2 43.5 395.6" fill="none" stroke="#111" stroke-width="1.1" />
<polygon points="43.7,325.3 40.6,327.6 43.1,327.3 45.2,328.9" fill="#111"/>
<path d="M217.6 267.3C215.6 268.5 209.5 271.7 205.3 274.4C201.1 277.1 196.2 280.7 192.3 283.5C188.4 286.3 184.8 289.1 182 291.2C179.2 293.3 176.8 294.9 175.5 296.4C174.2 297.9 174.1 298.9 174 300.3C173.9 301.7 174.1 302.6 174.9 304.8C175.7 307 176.9 309.7 178.8 313.3C180.7 316.9 184.1 320.6 186.5 326.2C188.9 331.8 191.5 340 193 346.9C194.5 353.8 195 359.5 195.6 367.6C196.2 375.7 196.3 390.9 196.4 395.6" fill="none" stroke="#111" stroke-width="1.1" />
<polygon points="187.8,329.4 188.9,325.7 187,327.5 184.4,327.4" fill="#111"/>
<path d="M217.6 274.4C216 275.7 210.8 279.6 207.9 282.2C205 284.8 202.2 287.3 200.1 289.9C198 292.5 196.6 295.3 195.6 297.7C194.6 300.1 194.4 302.1 194.3 304.2C194.2 306.2 194.5 307.6 195.2 310C195.8 312.4 197.1 314 198.2 318.4C199.3 322.8 201.1 330 202 336.5C202.9 343 203.8 350.3 203.9 357.2C204 364.1 203.2 371.6 202.6 378C201.9 384.4 200.4 392.7 200 395.6" fill="none" stroke="#111" stroke-width="1.1" />
<polygon points="200.7,329.2 202.4,325.7 200.3,327.1 197.7,326.7" fill="#111"/>
<path d="M52.4 395.6C52.6 393.2 52.8 386.4 53.6 381C54.5 375.6 55.6 369 57.5 363C59.4 357 61.8 350.8 65 345C68.2 339.2 72 333.2 77 328.5C82 323.8 87.2 319.5 95 316.5C102.8 313.5 116 311 123.5 310.5C131 310 134.7 312.1 140 313.3C145.3 314.5 150.8 314.9 155.5 317.5C160.2 320.1 164.5 324.3 168.4 328.8C172.3 333.3 175.8 338.3 178.8 344.3C181.8 350.3 184.3 356.4 186.5 365C188.7 373.6 190.8 390.5 191.7 395.6" fill="none" stroke="#111" stroke-width="1.1" />
<polygon points="125.1,310.4 121.8,308.2 123,310.5 122.2,313" fill="#111"/>
<path d="M60.5 395.6C61.2 391.7 63 378.9 65 372C67 365.1 69.2 359.8 72.5 354C75.8 348.2 79.8 342.2 84.5 337.5C89.2 332.8 94.5 328.2 101 325.5C107.5 322.8 117 321.3 123.5 321C130 320.7 135.1 322.2 140 323.6C144.9 325 148.7 326.3 153 329.3C157.3 332.3 162 336.6 165.9 341.7C169.8 346.8 173.4 353.8 176.2 359.8C179 365.9 181.1 372 182.7 378C184.3 384 185.4 392.7 186 395.6" fill="none" stroke="#111" stroke-width="1.1" />
<polygon points="125.1,320.9 121.9,318.7 123,321 122.1,323.5" fill="#111"/>
<path d="M66.5 395.6C67.2 392.7 68.8 383.9 71 378C73.2 372.1 76.5 365.5 80 360C83.5 354.5 87.5 349.2 92 345C96.5 340.8 101.8 336.8 107 334.5C112.2 332.2 119.2 331.2 123.5 331C127.8 330.8 130.2 332.1 133 333C135.8 333.9 136.7 334.4 140 336.5C143.3 338.6 148.7 341.3 153 345.6C157.3 349.9 162.5 357 165.9 362.4C169.3 367.8 171.4 372.5 173.6 378C175.8 383.5 178.4 392.7 179.3 395.6" fill="none" stroke="#111" stroke-width="1.1" />
<polygon points="125.1,330.9 121.9,328.7 123,331 122.1,333.5" fill="#111"/>
<circle cx="123.5" cy="342" r="10.2" fill="#f58a24" stroke="#6b3b12" stroke-width="0.8"/>
<polygon points="125.1,352.2 122,349.8 123,352.2 122,354.6" fill="#111"/>
<path d="M105.9 303H136" stroke="#e8213a" stroke-width="4.2" stroke-dasharray="3.6 2.1" stroke-dashoffset="2.8" fill="none"/>
<path d="M265.2 215.5C267 216.9 272.2 221.3 275.7 223.9C279.2 226.5 282.7 228.9 286.2 231.2C289.8 233.4 293.3 235.5 296.8 237.3C300.3 239.2 303.8 240.9 307.3 242.4C310.8 243.8 314.3 245.1 317.8 246.3C321.3 247.4 324.8 248.3 328.3 249.1C331.9 249.8 335.4 250.4 338.9 250.7C342.4 251.1 345.6 251.3 349.4 251.3C353.2 251.3 357.5 251.1 361.5 250.7C365.6 250.4 369.6 249.8 373.6 249.1C377.7 248.3 381.7 247.4 385.8 246.3C389.8 245.1 393.9 243.8 397.9 242.4C401.9 240.9 406 239.2 410 237.3C414.1 235.5 418.1 233.4 422.1 231.2C426.2 228.9 430.2 226.5 434.3 223.9C438.3 221.3 444.4 216.9 446.4 215.5" fill="none" stroke="#111" stroke-width="1.1" />
<polygon points="347.8,251.3 350.9,253.7 349.9,251.3 350.9,248.9" fill="#111"/>
<path d="M265.2 256.6C267.5 257.7 274.6 260.9 279 263.3C283.4 265.7 287.9 268.5 291.7 271.1C295.5 273.7 298.9 276.2 301.6 278.9C304.3 281.6 306.4 284.2 307.9 287.3C309.4 290.4 310 293.9 310.7 297.2C311.4 300.5 311.7 303.5 311.9 307C312.1 310.5 312.2 313.3 312.1 318C312 322.7 312 329.3 311 335.3C310 341.3 308.4 347.9 306.2 354.2C304 360.5 300.9 367.5 298 373C295.1 378.5 290.8 383.4 288.6 387.2C286.4 391 285.6 394.2 285 395.6" fill="none" stroke="#3a9fe0" stroke-width="1.1" />
<polygon points="311.1,334.6 308.2,337.3 310.8,336.7 313,338.1" fill="#3a9fe0"/>
<path d="M265.2 266.2C267 267.2 272.7 270.1 276.2 272.5C279.7 274.9 283.3 277.6 286 280.3C288.7 283 290.8 285.9 292.4 288.7C294 291.5 295.1 294.3 295.9 297.2C296.7 300.1 296.9 302.5 297 306C297.1 309.5 297.2 313.1 296.8 318C296.4 322.9 295.7 328.5 294.5 335.3C293.3 342.1 291.5 351.6 289.7 359C287.9 366.4 285.4 373.9 283.9 380C282.4 386.1 281.2 393 280.6 395.6" fill="none" stroke="#111" stroke-width="1.1" />
<polygon points="295.3,330.7 292.4,333.4 294.9,332.8 297.1,334.2" fill="#111"/>
<path d="M263.7 277.5C264.8 278.3 268.3 280.3 270.5 282.4C272.7 284.5 275.1 287.4 276.9 290.1C278.7 292.8 279.9 295.8 281.1 298.6C282.3 301.4 283.3 303.9 284 307C284.7 310.1 285.1 312.3 285.2 317C285.2 321.7 284.9 328.3 284.3 335.3C283.7 342.3 282.6 351.6 281.5 359C280.4 366.4 278.9 373.9 278 380C277.1 386.1 276.2 393 275.8 395.6" fill="none" stroke="#111" stroke-width="1.1" />
<polygon points="284.5,332.7 281.9,335.5 284.3,334.8 286.7,336" fill="#111"/>
<path d="M446.4 254.2C443.6 255.5 435 259.1 429.4 261.9C423.8 264.7 417.2 268 412.5 271.1C407.8 274.2 404.3 277.1 401.2 280.3C398.1 283.5 395.9 286.6 394.1 290.1C392.3 293.6 391.4 297.3 390.6 301.4C389.8 305.4 389.5 310.5 389.3 314.4C389.1 318.3 389.3 321.5 389.4 325C389.5 328.5 389.2 330.8 389.9 335.3C390.5 339.8 391.6 346.3 393.3 351.8C395.1 357.3 397.6 363.2 400.4 368.3C403.1 373.4 407.2 377.9 409.8 382.5C412.4 387.1 414.7 393.4 415.7 395.6" fill="none" stroke="#3a9fe0" stroke-width="1.1" />
<polygon points="389.8,334.4 391.9,331.1 389.6,332.4 387.1,331.6" fill="#3a9fe0"/>
<path d="M446.4 265.5C444 266.6 436.7 269.3 432.2 271.8C427.7 274.3 423 277.2 419.5 280.3C416 283.4 413.2 287.1 411 290.1C408.8 293.2 407.4 295.5 406.1 298.6C404.8 301.8 404 305.6 403.4 309C402.8 312.4 402.6 314.5 402.7 318.9C402.8 323.3 403.1 329.4 403.9 335.3C404.7 341.2 405.8 347.9 407.4 354.2C409 360.5 411.3 366.1 413.3 373C415.3 379.9 418.2 391.8 419.2 395.6" fill="none" stroke="#111" stroke-width="1.1" />
<polygon points="403.8,334.2 405.8,330.9 403.5,332.1 401,331.4" fill="#111"/>
<path d="M446 276.3C444.4 277.7 439.6 281.5 436.4 284.5C433.2 287.5 429.1 291.6 426.6 294.4C424.1 297.2 422.9 298.6 421.6 301.4C420.3 304.2 419.4 307.4 418.8 311C418.2 314.6 418 318.9 417.8 323C417.6 327.1 417.4 330.1 417.6 335.3C417.8 340.5 418.5 347.9 419.2 354.2C419.9 360.5 420.8 366.1 421.6 373C422.4 379.9 423.5 391.8 423.9 395.6" fill="none" stroke="#111" stroke-width="1.1" />
<polygon points="417.6,334.7 419.9,331.5 417.5,332.6 415.1,331.6" fill="#111"/>
<path d="M289.7 395.6C291.5 393.4 296.6 387.1 300.3 382.5C304 377.9 308.8 373 312.1 368.3C315.5 363.6 318.4 359.7 320.4 354.2C322.4 348.7 323.2 341.2 323.9 335.3C324.6 329.4 324.5 323 324.4 318.9C324.2 314.8 323.1 314.3 323 310.9C322.9 307.4 323.2 301.7 324.1 298.2C325 294.7 326.4 292 328.3 289.8C330.2 287.6 331.9 285.9 335.4 284.8C338.9 283.7 344.8 283.4 349.5 283.4C354.2 283.4 360.1 283.7 363.6 284.8C367.1 285.9 368.9 287.6 370.7 289.8C372.5 292 373.7 294.7 374.6 298.2C375.5 301.7 375.9 307.4 376 310.9C376.1 314.3 375.6 314.8 375.2 318.9C374.8 323 373.4 329.8 373.3 335.3C373.2 340.8 373.3 346.7 374.5 351.8C375.7 356.9 377.4 361.3 380.3 366C383.2 370.7 387.6 375.2 392.1 380.1C396.6 385 404.8 393 407.4 395.6" fill="none" stroke="#111" stroke-width="1.1" />
<polygon points="323.6,337.8 326.4,335 323.9,335.7 321.6,334.4" fill="#111"/>
<polygon points="373.3,336.9 375.7,333.9 373.3,334.8 370.9,333.7" fill="#111"/>
<polygon points="351.1,283.4 348,281 349,283.4 348,285.8" fill="#111"/>
<path d="M294.5 395.6C298.2 393 309.9 385 316.8 380.1C323.7 375.2 331.3 370.5 335.7 366C340.1 361.5 341.6 356.7 343 353C344.4 349.3 344.3 347.7 344.2 344C344.1 340.3 343.3 334.4 342.5 331C341.7 327.6 340.4 326.4 339.2 323.6C337.9 320.8 336 316.6 335 314C334 311.4 333.4 309.8 333 308C332.6 306.2 332.6 303.8 332.5 303" fill="none" stroke="#111" stroke-width="1.1" />
<path d="M405.1 395.6C402.2 393.8 393.1 388.6 387.4 384.8C381.7 381 375.6 376.9 370.9 373C366.2 369.1 361.8 365.1 359.1 361.3C356.4 357.5 355.4 353.6 354.6 350C353.8 346.4 353.6 344 354.4 340C355.1 336 357.4 330.4 359.1 325.9C360.8 321.4 363.4 316 364.5 313C365.6 310 365.7 309.7 366 308C366.3 306.3 366.3 303.8 366.4 303" fill="none" stroke="#111" stroke-width="1.1" />
<circle cx="349.2" cy="305.3" r="16.2" fill="#f58a24" stroke="#2a2a2a" stroke-width="1.1"/>
<path d="M349.3 337.5L350.3 355" stroke="#e8213a" stroke-width="3.6" stroke-dasharray="2.2 2.4" fill="none"/>
<polygon points="287,243 288,243.7 289,244 290,244.6 291,245.3 292,246 293,246.4 294,247 295,247.4 296,247.8 297,248.6 298,249.1 299,249.4 300,250.1 301,250.3 302,250.8 303,251.4 304,252 305,252.5 306,252.7 307,253.1 308,253.5 309,254.3 310,254.4 311,254.6 312,255.3 313,255.7 314,256.2 315,256.2 316,256.5 317,257 318,256.8 319,257.1 320,257.9 321,257.8 322,258.3 323,258.7 324,258.7 325,258.8 326,259.4 327,259.2 328,259.9 329,260.1 330,260 331,260.1 332,260.4 333,260.8 334,260.9 335,261 336,261.3 337,261.1 338,261.6 339,261.7 340,261.4 341,261.8 342,261.9 343,262 344,261.7 345,262 346,262 347,262 348,262.1 349,262 350,262 351,261.8 352,261.7 353,261.7 354,261.7 355,261.8 356,261.6 357,261.9 358,261.8 359,261.4 360,261.5 361,261.7 362,261.1 363,261.5 364,261 365,260.8 366,261.2 367,260.9 368,260.8 369,260.3 370,260.5 371,260.1 372,259.8 373,259.8 374,259.6 375,259.8 376,259.5 377,258.8 378,258.8 379,258.6 380,258.5 381,258.4 382,258.1 383,257.4 384,257.6 385,257.2 386,257.1 387,256.7 388,256.5 389,256.2 390,255.9 391,255.8 392,255.2 393,254.8 394,254.8 395,254.4 396,253.9 397,253.8 398,253.5 399,252.7 400,252.7 401,252.1 402,251.6 403,251.3 404,251 405,250.4 406,249.9 407,249.7 408,249 409,248.9 410,248.1 411,248 412,247.2 413,247 414,246.2 415,245.8 416,245.4 416.5,245.7 415.5,246.3 414.5,246.8 413.5,248.2 412.5,248.1 411.5,248.9 410.5,249.3 409.5,250.3 408.5,250.4 407.5,251.5 406.5,251.8 405.5,252 404.5,253 403.5,253.5 402.5,253.7 401.5,254.6 400.5,255 399.5,255 398.5,255.6 397.5,256.1 396.5,256.6 395.5,257.7 394.5,259.1 393.5,259.7 392.5,260.6 391.5,261.8 390.5,262.3 389.5,263.9 388.5,264.8 387.5,265.4 386.5,266.7 385.5,267.2 384.5,263.5 383.5,262.6 382.5,263.1 381.5,263.5 380.5,264.2 379.5,265.6 378.5,266.2 377.5,266 376.5,266.8 375.5,267.1 374.5,267.2 373.5,268.4 372.5,268 371.5,268.7 370.5,268.8 369.5,269 368.5,269.8 367.5,271.1 366.5,271.5 365.5,270.2 364.5,270.7 363.5,272.1 362.5,272.1 361.5,272.2 360.5,272.1 359.5,271.8 358.5,272.1 357.5,272 356.5,271 355.5,271.2 354.5,272.7 353.5,271.1 352.5,272.7 351.5,272.2 350.5,271.7 349.5,272.4 348.5,272.6 347.5,272.6 346.5,272.8 345.5,272.2 344.5,272.6 343.5,271.5 342.5,271.4 341.5,272.4 340.5,271.1 339.5,270.6 338.5,270.8 337.5,271.5 336.5,271.1 335.5,270.6 334.5,269.8 333.5,270.5 332.5,269.8 331.5,268.1 330.5,267.8 329.5,267.9 328.5,267.5 327.5,267.7 326.5,267 325.5,266.8 324.5,265.2 323.5,264.4 322.5,264.7 321.5,264.1 320.5,262.7 319.5,262.9 318.5,262.7 317.5,266.7 316.5,265.7 315.5,265.1 314.5,264.2 313.5,262.8 312.5,261.6 311.5,260.5 310.5,259.4 309.5,258.9 308.5,257.3 307.5,255.9 306.5,255.4 305.5,254.8 304.5,254 303.5,253.6 302.5,252.9 301.5,252.3 300.5,251.8 299.5,251.2 298.5,251.3 297.5,250.4 296.5,249.3 295.5,248.7 294.5,248.8 293.5,248.5 292.5,247.4 291.5,246.5 290.5,245.8 289.5,245.6 288.5,245.1 287.5,244.1" fill="#ee3f5c"/>
<path d="M344.1 273.3h0.8v0.8h-0.8zM348 271.9h0.8v0.8h-0.8zM361.7 273.3h0.8v0.8h-0.8zM356.2 270.3h0.5v0.5h-0.5zM356.6 274.4h0.4v0.4h-0.4zM353.3 273.8h0.3v0.3h-0.3zM326.2 274h0.6v0.6h-0.6zM326.4 272.5h0.5v0.5h-0.5zM362.7 274h0.5v0.5h-0.5zM347 269.4h0.5v0.5h-0.5zM325.2 271.5h0.5v0.5h-0.5zM352.4 274.7h0.7v0.7h-0.7zM352.7 270.4h0.7v0.7h-0.7zM339.2 270.7h0.5v0.5h-0.5zM340.3 274.3h0.3v0.3h-0.3zM324.5 273.7h0.7v0.7h-0.7zM340.7 271.7h0.5v0.5h-0.5zM327.6 273h0.5v0.5h-0.5zM332.3 269.6h0.4v0.4h-0.4zM333.3 270.5h0.5v0.5h-0.5zM305.7 272.7h0.3v0.3h-0.3zM339.9 272.3h0.7v0.7h-0.7zM367 271.9h0.4v0.4h-0.4zM331.2 271.7h0.7v0.7h-0.7zM326.2 272.3h0.7v0.7h-0.7zM332.7 272.3h0.8v0.8h-0.8zM355 274.6h0.5v0.5h-0.5zM349.7 271.8h0.8v0.8h-0.8zM345.6 272.9h0.4v0.4h-0.4zM346.9 272.6h0.5v0.5h-0.5zM327.3 273.5h0.5v0.5h-0.5zM347.9 273.5h0.7v0.7h-0.7zM367.2 271.9h0.4v0.4h-0.4zM354.1 271.2h0.4v0.4h-0.4zM368.1 274.3h0.7v0.7h-0.7zM337 271.3h0.6v0.6h-0.6zM355.2 276.1h0.5v0.5h-0.5zM330 270.5h0.7v0.7h-0.7zM335.9 272.7h0.6v0.6h-0.6zM370.4 274.4h0.5v0.5h-0.5zM356.5 271.6h0.5v0.5h-0.5zM348.6 274h0.4v0.4h-0.4zM374.6 272.5h0.4v0.4h-0.4zM349.4 273.7h0.5v0.5h-0.5zM328.5 273.4h0.6v0.6h-0.6zM325.1 274.9h0.7v0.7h-0.7zM377.1 273.4h0.8v0.8h-0.8zM350.9 271.7h0.7v0.7h-0.7zM347.1 272.3h0.3v0.3h-0.3zM371.3 271.9h0.4v0.4h-0.4zM356.1 273h0.4v0.4h-0.4zM351.4 271.2h0.4v0.4h-0.4zM372.3 271.1h0.4v0.4h-0.4zM366 271.3h0.7v0.7h-0.7zM332.4 269.9h0.7v0.7h-0.7zM354.6 271.7h0.6v0.6h-0.6zM323.2 272.1h0.5v0.5h-0.5zM364.1 271.3h0.4v0.4h-0.4zM349.9 273.3h0.5v0.5h-0.5zM365.8 273.1h0.4v0.4h-0.4zM330.2 272.6h0.6v0.6h-0.6zM350.2 272.4h0.7v0.7h-0.7zM328.8 272.9h0.6v0.6h-0.6zM357.4 271.4h0.5v0.5h-0.5zM355.1 272.4h0.6v0.6h-0.6zM346.5 272.2h0.6v0.6h-0.6zM333.8 269.5h0.5v0.5h-0.5zM368 272.3h0.5v0.5h-0.5zM352.4 272.3h0.7v0.7h-0.7zM338.7 271.6h0.7v0.7h-0.7z" fill="#ee3f5c"/>
<path d="M344.5 275.3h0.6v0.6h-0.6zM349.5 273.8h0.5v0.5h-0.5zM342.3 275.1h0.7v0.7h-0.7zM346 276.3h0.5v0.5h-0.5zM344.2 274.5h0.6v0.6h-0.6zM357.6 274.3h0.7v0.7h-0.7zM346.4 275.3h0.4v0.4h-0.4zM341.7 273.8h0.7v0.7h-0.7zM358.3 274.9h0.7v0.7h-0.7zM347.2 274.4h0.5v0.5h-0.5zM352.9 274.5h0.8v0.8h-0.8zM342.2 273.6h0.7v0.7h-0.7zM356 273.8h0.6v0.6h-0.6zM342.5 273.4h0.6v0.6h-0.6zM347.3 273.9h0.6v0.6h-0.6zM339.2 274.9h0.4v0.4h-0.4zM349.7 274.7h0.7v0.7h-0.7zM356.5 273.7h0.5v0.5h-0.5zM353.6 272.9h0.6v0.6h-0.6zM348.7 275.3h0.5v0.5h-0.5zM346.3 275.5h0.6v0.6h-0.6zM350.8 274.4h0.6v0.6h-0.6zM351.9 274.6h0.7v0.7h-0.7zM337 273.5h0.5v0.5h-0.5z" fill="#ee3f5c"/>
<path d="M409.8 244.7h0.6v0.6h-0.6zM421.3 235.6h0.5v0.5h-0.5zM399.1 251.2h0.6v0.6h-0.6zM403.6 249.3h0.3v0.3h-0.3zM413.9 242.2h0.4v0.4h-0.4zM405.2 247h0.7v0.7h-0.7zM403.1 248.6h0.7v0.7h-0.7zM404.1 251.2h0.4v0.4h-0.4zM415.3 242.5h0.7v0.7h-0.7zM408.6 242.5h0.3v0.3h-0.3zM392.5 252.1h0.5v0.5h-0.5zM407.2 245.4h0.8v0.8h-0.8zM401.6 248.9h0.3v0.3h-0.3zM392.3 251.5h0.3v0.3h-0.3zM398.6 254.1h0.4v0.4h-0.4zM407 244.3h0.3v0.3h-0.3zM396 254.5h0.5v0.5h-0.5zM399.6 249.3h0.7v0.7h-0.7zM395.7 254.9h0.6v0.6h-0.6zM395.7 253.6h0.7v0.7h-0.7zM414.3 240.7h0.6v0.6h-0.6zM401.6 250h0.8v0.8h-0.8zM396.2 248.6h0.5v0.5h-0.5zM383.6 256.1h0.7v0.7h-0.7zM396.2 251.3h0.5v0.5h-0.5zM407.2 244.7h0.6v0.6h-0.6zM387.5 254.7h0.7v0.7h-0.7zM402 249.1h0.4v0.4h-0.4zM393.4 255.3h0.7v0.7h-0.7zM403.6 247.7h0.7v0.7h-0.7zM406.3 242.7h0.6v0.6h-0.6zM401.5 253.3h0.7v0.7h-0.7zM393.3 249.8h0.5v0.5h-0.5zM411.1 245.1h0.7v0.7h-0.7zM407.4 249.2h0.8v0.8h-0.8zM404.3 250.5h0.6v0.6h-0.6zM397 252.2h0.4v0.4h-0.4zM400.5 246.2h0.5v0.5h-0.5zM414.9 243.5h0.7v0.7h-0.7zM404.3 250.4h0.7v0.7h-0.7z" fill="#ee3f5c"/>
<path d="M305.3 253.7h0.5v0.5h-0.5zM297.3 250.1h0.4v0.4h-0.4zM302.7 255.3h0.5v0.5h-0.5zM295.3 248.9h0.6v0.6h-0.6zM300.8 252.8h0.8v0.8h-0.8zM298 251.4h0.6v0.6h-0.6zM301 251.8h0.6v0.6h-0.6zM295.8 251.1h0.3v0.3h-0.3zM315.4 261.1h0.7v0.7h-0.7zM293.1 248.5h0.4v0.4h-0.4zM301.6 251.4h0.8v0.8h-0.8zM302.1 250.6h0.8v0.8h-0.8zM299.8 252.3h0.4v0.4h-0.4zM300.7 252.9h0.3v0.3h-0.3z" fill="#ee3f5c"/>
<path d="M265.2 226.2C267 227.6 272.2 231.9 275.7 234.5C279.2 237.1 282.7 239.5 286.2 241.7C289.8 243.9 293.3 245.9 296.8 247.8C300.3 249.6 303.8 251.3 307.3 252.8C310.8 254.2 314.3 255.5 317.8 256.6C321.3 257.7 324.8 258.7 328.3 259.4C331.9 260.1 335.4 260.7 338.9 261C342.4 261.4 345.6 261.6 349.4 261.6C353.2 261.6 357.5 261.4 361.5 261C365.6 260.7 369.6 260.1 373.6 259.4C377.7 258.6 381.7 257.7 385.8 256.6C389.8 255.4 393.9 254.1 397.9 252.7C401.9 251.2 406 249.5 410 247.6C414.1 245.8 418.1 243.7 422.1 241.5C426.2 239.2 430.2 236.8 434.3 234.2C438.3 231.6 444.4 227.2 446.4 225.8" fill="none" stroke="#111" stroke-width="1.1" />
<polygon points="347.8,261.6 350.9,264 349.9,261.6 350.9,259.2" fill="#111"/>
<path d="M265.2 236C267 237.4 272.2 241.8 275.7 244.5C279.2 247.1 282.7 249.6 286.2 251.8C289.8 254.1 293.3 256.2 296.8 258.1C300.3 259.9 303.8 261.6 307.3 263.1C310.8 264.7 314.3 266 317.8 267.1C321.3 268.2 324.8 269.2 328.3 269.9C331.9 270.7 335.4 271.3 338.9 271.6C342.4 272 345.6 272.2 349.4 272.2C353.2 272.2 357.5 272 361.5 271.6C365.6 271.3 369.6 270.7 373.6 269.9C377.7 269.2 381.7 268.2 385.8 267.1C389.8 266 393.9 264.7 397.9 263.1C401.9 261.6 406 259.9 410 258.1C414.1 256.2 418.1 254.1 422.1 251.8C426.2 249.6 430.2 247.1 434.3 244.5C438.3 241.8 444.4 237.4 446.4 236" fill="none" stroke="#111" stroke-width="1.1" />
<path d="M318 262.8C318.7 263 320.7 263.6 322 264C323.3 264.4 324.7 264.7 326 265C327.3 265.4 328.7 265.6 330 265.9C331.3 266.2 332.7 266.4 334 266.6C335.3 266.8 336.7 267 338 267.1C339.3 267.3 340.7 267.4 342 267.5C343.3 267.6 344.7 267.7 346 267.7C347.3 267.8 348.7 267.8 350 267.8C351.3 267.8 352.7 267.8 354 267.7C355.3 267.7 356.7 267.6 358 267.5C359.3 267.4 360.7 267.3 362 267.2C363.3 267.1 364.7 266.9 366 266.7C367.3 266.6 368.7 266.4 370 266.2C371.3 266 372.7 265.7 374 265.5C375.3 265.2 376.7 265 378 264.7C379.3 264.4 381.3 263.9 382 263.7" fill="none" stroke="#3cb265" stroke-width="2.5" stroke-dasharray="2.1 2.9"/>
<polygon points="307.6,254.1 321,255 316.3,258.3 313.9,263.8 311.6,258" fill="#3cb265"/>
<polygon points="379.9,254.3 393.2,254.8 387,263.8 385.6,258.6" fill="#3cb265"/>
<path d="M344.9 274.4L352.7 281.2M352.7 274.4L344.9 281.2" stroke="#e8213a" stroke-width="1.1" fill="none"/>
<path d="M492.9 214.7C494.7 216.1 500 220.4 503.5 223C507.1 225.6 510.6 228 514.1 230.2C517.7 232.4 521.2 234.5 524.7 236.3C528.3 238.2 531.8 239.8 535.3 241.3C538.9 242.8 542.4 244.1 546 245.2C549.5 246.3 553 247.2 556.6 248C560.1 248.7 563.6 249.3 567.2 249.6C570.7 250 574 250.2 577.8 250.2C581.6 250.2 585.8 250 589.7 249.7C593.7 249.3 597.7 248.8 601.7 248C605.7 247.3 609.6 246.4 613.6 245.3C617.6 244.2 621.6 243 625.5 241.5C629.5 240.1 633.5 238.5 637.5 236.6C641.5 234.8 645.4 232.8 649.4 230.7C653.4 228.5 657.4 226.2 661.4 223.6C665.3 221.1 671.3 216.9 673.3 215.5" fill="none" stroke="#111" stroke-width="1.1" />
<polygon points="576.2,250.2 579.3,252.6 578.3,250.2 579.3,247.8" fill="#111"/>
<polygon points="493.1,227.2 494.1,227.6 495.1,228.4 496.1,228.6 497.1,228.8 498.1,229.3 499.1,230.1 500.1,230.6 501.1,231 502.1,232 503.1,232 504.1,232.6 505.1,233.6 506.1,234.1 507.1,234.5 508.1,234.9 509.1,235 510.1,236 511.1,236.4 512.1,236.8 513.1,236.9 514.1,237.5 515.1,238.1 516.1,238.3 517.1,239 518.1,239.5 519.1,239.4 520.1,239.9 521.1,240.7 522.1,240.6 523.1,240.9 524.1,241.8 525.1,241.9 526.1,242.5 527.1,242.7 528.1,242.8 529.1,243.5 530.1,243.4 531.1,243.9 532.1,244.2 533.1,245 534.1,244.9 535.1,245.4 536.1,245.6 537.1,245.9 538.1,246.7 539.1,246.9 540.1,247 541.1,247.4 542.1,248.2 543.1,247.9 544.1,248.7 545.1,248.8 546.1,249.3 547.1,249.4 548.1,249.2 549.1,249.9 550.1,249.6 551.1,250.3 552.1,250.3 553.1,250.2 554.1,250.7 555.1,250.4 556.1,250.9 557.1,250.8 558.1,251.2 559.1,251.5 560.1,251.2 561.1,251.7 562.1,251.8 563.1,252 564.1,252.1 565.1,252 566.1,252.4 567.1,252.5 568.1,252.1 569.1,252.4 570.1,252.4 571.1,252.3 572.1,252.6 573.1,252.5 574.1,253 575.1,252.7 576.1,252.7 577.1,252.5 578.1,253.1 579.1,252.7 580.1,252.7 581.1,252.9 582.1,252.3 583.1,252.3 584.1,252 585.1,252.4 586.1,251.8 587.1,252 588.1,252 589.1,252 590.1,251.2 591.1,251.4 592.1,251.1 593.1,251 594.1,250.9 595.1,250.4 596.1,250.7 597.1,250.5 598.1,250 599.1,250.1 600.1,249.6 601.1,249.7 602.1,249 603.1,248.9 604.1,249 605.1,248.7 606.1,247.9 607.1,248.3 608.1,247.6 609.1,247.6 610.1,247.2 611.1,246.9 612.1,246.4 613.1,246.8 614.1,246.5 615.1,246.1 616.1,245.9 617.1,245.4 618.1,245.2 619.1,244.8 620.1,244.6 621.1,244.2 622.1,244.3 623.1,243.5 624.1,243.1 625.1,243.3 626.1,242.5 627.1,242.4 628.1,241.7 629.1,241.5 630.1,241.2 631.1,240.7 632.1,241 633.1,240.6 634.1,240.1 635.1,240.1 636.1,240 637.1,239.6 638.1,239.3 639.1,239.3 640.1,238.8 641.1,239.3 642.1,238.9 643.1,238.5 644.1,238.3 645.1,238 646.1,238.2 647.1,237.4 648.1,237.4 648.6,238.7 647.6,239.4 646.6,240 645.6,240.7 644.6,241.1 643.6,241.6 642.6,242.3 641.6,243 640.6,243.4 639.6,243.8 638.6,244.4 637.6,245.1 636.6,245.4 635.6,245.7 634.6,246 633.6,246.5 632.6,246.9 631.6,247.3 630.6,248.1 629.6,248.3 628.6,249.1 627.6,249.5 626.6,249.5 625.6,249.9 624.6,250.3 623.6,250.6 622.6,251.5 621.6,251.8 620.6,252.4 619.6,252 618.6,253.2 617.6,253.6 616.6,254.3 615.6,253.6 614.6,254.4 613.6,254.6 612.6,255.8 611.6,255.7 610.6,256.7 609.6,256.7 608.6,257 607.6,256.7 606.6,257.7 605.6,257.6 604.6,257.9 603.6,258.2 602.6,259.4 601.6,259.8 600.6,259.4 599.6,260.3 598.6,260.8 597.6,260.4 596.6,261.7 595.6,261.5 594.6,261.5 593.6,262.7 592.6,263 591.6,262.8 590.6,263.6 589.6,263.2 588.6,264.3 587.6,264 586.6,264.3 585.6,265.1 584.6,265.6 583.6,265 582.6,266.2 581.6,266.3 580.6,266.8 579.6,266.2 578.6,266.4 577.6,265.9 576.6,266.1 575.6,266 574.6,265.7 573.6,265.8 572.6,265.9 571.6,265.7 570.6,265.4 569.6,265.8 568.6,264.7 567.6,265.2 566.6,264.7 565.6,265 564.6,263.6 563.6,264 562.6,264 561.6,263.2 560.6,263.3 559.6,262.3 558.6,261.8 557.6,262.1 556.6,261.4 555.6,261.6 554.6,261.1 553.6,260 552.6,260.4 551.6,259.9 550.6,259.2 549.6,258.7 548.6,259 547.6,258.1 546.6,258.1 545.6,257.3 544.6,257.1 543.6,256.4 542.6,255.1 541.6,254.5 540.6,255 539.6,254.4 538.6,254 537.6,252.6 536.6,252 535.6,251.5 534.6,251.5 533.6,251.2 532.6,250.8 531.6,250.1 530.6,249 529.6,248.9 528.6,249 527.6,248.5 526.6,247.7 525.6,247.4 524.6,246.8 523.6,246.1 522.6,246.2 521.6,245.3 520.6,244.9 519.6,244.4 518.6,244.5 517.6,244.1 516.6,243.4 515.6,242.8 514.6,242.3 513.6,241.5 512.6,240.6 511.6,240.3 510.6,239.3 509.6,239.1 508.6,238 507.6,237.4 506.6,237 505.6,236 504.6,235.5 503.6,234.8 502.6,233.8 501.6,233.3 500.6,232.5 499.6,231.6 498.6,231 497.6,230.2 496.6,229.6 495.6,228.9 494.6,228.1 493.6,227.4" fill="#ee3f5c"/>
<polygon points="507,242 508,242.5 509,242.9 510,243.4 511,243.9 512,244.4 513,244.9 514,245.4 515,245.8 516,246.3 517,246.7 518,247.3 519,245.7 520,246.2 521,246.7 522,247.1 523,247.6 524,248 525,248.4 526,248.8 527,249.2 528,249.6 529,250.1 530,250.6 531,251.1 532,251.6 533,252.2 534,252.7 535,253.3 536,253.8 537,254.3 538,254.8 539,255.3 540,255.8 541,256.3 542,256.8 543,257.3 544,257.8 545,258.2 546,258.7 547,259.1 548,259.5 549,260 550,260.4 551,260.8 552,261.2 553,261.5 554,261.9 555,262.3 556,262.6 557,263 558,263.3 559,263.7 560,264 561,264.3 562,264.7 563,265 564,265.3 565,265.6 566,265.9 567,266.1 568,266.4 569,266.6 570,266.8 571,267 572,267.1 573,267.3 574,267.4 575,267.6 576,267.6 577,267.7 578,267.6 579,267.5 580,267.4 581,267.2 582,267 583,266.7 584,266.3 585,266 586,265.7 587,265.3 588,265 589,264.7 590,264.4 591,264.1 592,263.8 593,263.5 594,263.2 595,262.9 596,262.6 597,262.3 598,261.9 599,261.6 600,261.2 601,260.9 602,260.5 603,260.1 604,259.8 605,259.4 606,259 607,258.6 608,258.2 609,257.8 610,257.4 611,257 612,256.6 613,256.2 614,255.8 615,255.4 616,255 617,254.6 618,254.2 619,253.8 620,253.4 621,253 622,252.6 623,252.1 624,251.7 625,251.2 626,250.8 627,250.4 628,249.9 629,249.5 630,249 631,248.6 632,248.2 633,247.8 634,247.3 635,246.9 636,246.4 637,245.9 638,245.4 639,244.8 640,247.8 641,247.5 642,247.3 643,247 644,246.7 645,246.4 646,246.1 647,245.8 648,245.6 648.5,245.9 647.5,246.5 646.5,247.1 645.5,247.7 644.5,248.4 643.5,249 642.5,249.6 641.5,250.2 640.5,250.8 639.5,251.4 638.5,252 637.5,252.5 636.5,253 635.5,253.7 634.5,254.2 633.5,254.9 632.5,255.3 631.5,255.9 630.5,256.7 629.5,256.9 628.5,257.5 627.5,257.8 626.5,258.9 625.5,259.8 624.5,259.6 623.5,260.6 622.5,260.6 621.5,261.6 620.5,262.6 619.5,262.3 618.5,262.3 617.5,263.8 616.5,263.9 615.5,264.4 614.5,265.6 613.5,266.1 612.5,266.1 611.5,266.5 610.5,267.3 609.5,267.9 608.5,267.9 607.5,267.6 606.5,267.8 605.5,268.4 604.5,268.9 603.5,268.9 602.5,270.5 601.5,270.2 600.5,270 599.5,270.1 598.5,271.5 597.5,272 596.5,271.3 595.5,272.1 594.5,272.7 593.5,272 592.5,272.9 591.5,273.5 590.5,273.7 589.5,273.2 588.5,273.6 587.5,274.5 586.5,274.8 585.5,275.4 584.5,275.7 583.5,276.5 582.5,276.1 581.5,276.1 580.5,275.8 579.5,276.9 578.5,276.6 577.5,277 576.5,276.9 575.5,276.3 574.5,276.4 573.5,276.2 572.5,275.2 571.5,275.8 570.5,275.2 569.5,274.7 568.5,275.2 567.5,274.8 566.5,275.4 565.5,275.3 564.5,273.6 563.5,274.1 562.5,274.2 561.5,272.7 560.5,272.6 559.5,272.3 558.5,272.9 557.5,271.6 556.5,272.6 555.5,271.5 554.5,271.2 553.5,271.5 552.5,270.9 551.5,270.7 550.5,270 549.5,269.5 548.5,268.5 547.5,268.2 546.5,268.5 545.5,267.9 544.5,267.1 543.5,266.9 542.5,266.5 541.5,265.3 540.5,265.1 539.5,264.5 538.5,264 537.5,263 536.5,262 535.5,261.6 534.5,261.4 533.5,260.6 532.5,259.5 531.5,259.4 530.5,258.7 529.5,257.8 528.5,257.9 527.5,256.4 526.5,256.3 525.5,255 524.5,254.5 523.5,253.8 522.5,253.3 521.5,252.4 520.5,251.7 519.5,251 518.5,250.3 517.5,249.5 516.5,248.8 515.5,248.1 514.5,247.4 513.5,246.7 512.5,245.9 511.5,245.2 510.5,244.5 509.5,243.7 508.5,243 507.5,242.3" fill="#f5a040"/>
<path d="M588.2 266.4l-0.8 3.3M603 266.8l-0.6 2.4M614.7 249.6l-0.9 3.5M630.4 248.1l-0.9 3.8M597.7 256.3l-1.4 5.4M630.8 250.8l-1.1 4.4M610.3 260.8l-0.9 3.6M596.3 264.6l-1 3.9M597.4 269.4l-0.7 2.7M599.8 259.1l-1 4.1M605.6 255.6l-1.3 5.3M597.5 253.3l-0.7 2.9M618.9 248.7l-1.2 4.8M598.8 266.7l-0.9 3.8M626.1 248.2l-1.2 4.9M633.9 243.9l-1 4M608.1 263l-0.8 3M615 251.5l-1.1 4.4M629.5 245.8l-1 4.2M624.4 248.8l-1.1 4.3M604.9 255.3l-1.4 5.4M618.8 252.9l-0.9 3.4M600.1 253.9l-0.7 2.9M621.6 253.5l-1.4 5.6M630 246l-0.8 3.1M619.7 255.2l-0.9 3.7" stroke="#fff" stroke-width="0.6" fill="none" opacity="0.8"/>
<path d="M654.2 234.9h0.7v0.7h-0.7zM652.7 239.2h0.4v0.4h-0.4zM665.5 231.4h0.7v0.7h-0.7zM655.4 234.9h0.3v0.3h-0.3zM658.2 234.6h0.5v0.5h-0.5zM655.1 235.9h0.5v0.5h-0.5zM653.6 235.7h0.7v0.7h-0.7zM648.2 238.8h0.4v0.4h-0.4zM649.5 240.3h0.5v0.5h-0.5zM665.6 228.8h0.7v0.7h-0.7zM655.9 235.6h0.7v0.7h-0.7zM654.6 235.6h0.4v0.4h-0.4zM663.8 232h0.4v0.4h-0.4zM662.5 229.3h0.3v0.3h-0.3zM653.5 234.9h0.7v0.7h-0.7zM657.4 232.8h0.3v0.3h-0.3zM660.7 231.3h0.8v0.8h-0.8zM651.8 235h0.7v0.7h-0.7zM651.5 236.5h0.3v0.3h-0.3zM653.5 234.8h0.6v0.6h-0.6zM658.2 233.2h0.7v0.7h-0.7zM663.9 230.6h0.7v0.7h-0.7zM656.6 236.9h0.8v0.8h-0.8zM651.1 236.5h0.4v0.4h-0.4zM660.7 232.6h0.5v0.5h-0.5zM658 235.2h0.4v0.4h-0.4zM652.8 234.5h0.4v0.4h-0.4zM657.3 236.3h0.5v0.5h-0.5z" fill="#ee3f5c"/>
<path d="M492.9 232.9C494.1 233.8 496.9 235.9 500 238.1C503.1 240.3 507.6 243.5 511.4 246.3C515.2 249.1 519.1 252.2 522.9 255C526.7 257.8 530.5 260.5 534.3 263C538.1 265.5 541.9 267.9 545.7 269.9C549.5 271.8 553.3 273.3 557.1 274.7C560.9 276.1 565.2 277.3 568.6 278.2C572 279.1 574.9 280 577.8 280.1C580.7 280.2 583 279.4 586 278.6C589 277.8 591.7 276.8 595.6 275.4C599.5 274 605.1 272 609.3 270.1C613.5 268.2 616.9 266.1 620.7 263.8C624.5 261.6 628.3 259 632.1 256.6C635.9 254.2 640 251.6 643.6 249.4C647.2 247.2 649 245.9 653.9 243.2C658.8 240.4 670.1 234.6 673.3 232.9" fill="none" stroke="#3a9fe0" stroke-width="1.1" />
<polygon points="575.6,280.1 579.9,283.4 578.5,280.1 579.9,276.8" fill="#3a9fe0"/>
<path d="M521.4 246.7L522.6 247.2L523.8 247.7L524.9 248.1L526.1 248.6L527.4 249.1L528.6 249.7L529.9 250.3L531.1 251L532.4 251.7L533.7 252.4L535 253.1L536.3 253.8L537.6 254.5L538.9 255.1L540.2 255.7L541.5 256.3L542.7 257L544 257.5L545.3 258.1L546.5 258.7L547.8 259.3L549.1 259.8L550.4 260.3L551.7 260.8L553 261.3L554.3 261.8L555.6 262.3L556.9 262.7L558.2 263.2L559.4 263.6L560.6 264L561.8 264.4L562.9 264.8L564 265.1L565.1 265.5L566.3 265.8L567.4 266L568.6 266.3L569.8 266.5L571 266.8L572.3 267L573.5 267.2L574.8 267.3L576.1 267.4L577.3 267.5L578.6 267.4L579.9 267.2L581.1 267L582.4 266.7L583.6 266.3L584.9 265.9L586.2 265.4L587.4 265L588.7 264.6L590 264.2L591.3 263.8L592.5 263.5L593.8 263.1L595.1 262.7L596.4 262.3L597.7 261.8L599 261.4L600.3 261L601.5 260.5L602.8 260L604.1 259.5L605.4 259L606.6 258.5L608 258L609.3 257.5L610.7 257L612.2 256.4L613.6 255.8L615.1 255.2L616.6 254.6L618.1 254L619.4 253.4L620.7 252.9L621.9 252.4L623 251.9L624 251.5L625 251.1L625.9 250.6L626.9 250.2L627.8 249.8L628.7 249.4L629.6 249L630.5 248.6L631.3 248.3L632.2 247.9L633 247.6L633.9 247.2L634.7 246.8L635.6 246.4" fill="none" stroke="#3cb265" stroke-width="2.5" stroke-dasharray="2.1 2.9"/>
<polygon points="513.4,242.3 526,242.8 521.5,245.5 518.9,250.4 517.5,245.5" fill="#3cb265"/>
<polygon points="632.8,242.3 644.6,242.3 639.1,249.6 638.6,245" fill="#3cb265"/>
<path d="M492.9 245C495.5 246.8 503 252.3 508.6 255.7C514.2 259.1 521.6 262.3 526.3 265.5C531 268.7 533.3 271.8 537 275C540.7 278.2 544.5 281.1 548.3 284.6C552 288.2 556.4 292.5 559.5 296.3C562.6 300.1 565.3 304.2 567 307.6C568.7 311.1 569.5 313.9 569.8 317C570.1 320.1 570 322.9 568.9 326.4C567.8 329.8 565.7 333.6 563.2 337.7C560.7 341.8 556.8 346.8 553.8 350.9C550.8 355 548.4 358.5 545.4 362.2C542.4 365.9 540.6 367.3 535.8 372.9C531 378.5 519.9 391.8 516.7 395.6" fill="none" stroke="#3a9fe0" stroke-width="1.1" />
<polygon points="565.1,334.5 561.5,335.9 564,336.3 565.6,338.4" fill="#3a9fe0"/>
<path d="M492.9 254.9C495.5 256.7 504.1 262 508.8 265.5C513.5 269 517 272.4 521 276C525 279.6 528.7 282.6 532.6 287.2C536.5 291.8 541.3 299.1 544.4 303.8C547.5 308.5 549.7 312 551 315.1C552.3 318.2 552.4 319.6 552.3 322.7C552.1 325.8 551.7 329.6 550.1 334C548.5 338.4 545 344.6 542.5 349C540 353.4 538 355.8 535 360.3C532 364.8 528.3 370.1 524.5 376C520.7 381.9 514.1 392.3 512 395.6" fill="none" stroke="#3a9fe0" stroke-width="1.1" />
<polygon points="549.9,334.6 546.5,336.5 549.1,336.5 550.9,338.4" fill="#3a9fe0"/>
<path d="M492.9 264.4C494.8 266.1 500.6 270.8 504 274.6C507.4 278.4 510.8 283.3 513.6 287.2C516.4 291.1 518.6 294.3 521 298C523.4 301.7 526.1 305.1 527.9 309.4C529.7 313.7 531.8 318.4 532 323.7C532.2 329 531.4 334 529.4 341.2C527.4 348.4 523.3 357.5 519.9 366.6C516.5 375.7 510.6 390.8 508.8 395.6" fill="none" stroke="#111" stroke-width="1.1" />
<polygon points="531.8,330.2 529,332.9 531.5,332.3 533.7,333.6" fill="#111"/>
<path d="M491.3 275.4C492.4 277.2 495.9 282.4 498 286C500.1 289.6 502.2 293 504 296.7C505.8 300.4 507.2 304.3 508.5 308C509.8 311.7 511.3 315.5 512 319C512.7 322.5 512.6 325.8 512.6 329C512.6 332.2 512.9 331.7 512 338C511.1 344.3 508.8 357 507.2 366.6C505.6 376.2 503.3 390.8 502.5 395.6" fill="none" stroke="#111" stroke-width="1.1" />
<polygon points="512.6,329.3 510.3,332.4 512.6,331.4 515.1,332.3" fill="#111"/>
<path d="M672.2 241.5C667.3 244.7 650.6 255.4 643 260.4C635.4 265.4 631.4 267.7 626.3 271.5C621.2 275.3 616.4 278.9 612.2 283C608 287.1 603.7 292.2 600.9 296.3C598.1 300.4 596.7 304.2 595.6 307.6C594.5 311.1 594.3 313.9 594.3 317C594.3 320.1 594.6 322.9 595.6 326.4C596.6 329.8 598 333.6 600 337.7C602 341.8 604 345 607.5 350.9C611 356.8 615.8 365.6 621 373C626.2 380.4 636 391.8 639 395.6" fill="none" stroke="#3a9fe0" stroke-width="1.1" />
<polygon points="598.7,335 599.7,331.2 597.9,333.1 595.3,333.1" fill="#3a9fe0"/>
<path d="M673.8 252.6C670.8 254.6 661.6 260.8 656 264.5C650.4 268.2 645 271.1 640 275C635 278.9 630 283.5 626.3 288C622.6 292.5 619.8 297.2 617.8 302C615.8 306.8 614.7 312.9 614.1 317C613.5 321.1 613.5 322.6 614.1 326.4C614.7 330.2 616.1 334.9 617.8 339.6C619.5 344.3 621.8 348.6 624.4 354.7C627 360.8 630.2 369.3 633.5 376.1C636.8 382.9 642.5 392.4 644.3 395.6" fill="none" stroke="#3a9fe0" stroke-width="1.1" />
<polygon points="616.6,336.2 618,332.5 616,334.2 613.4,334" fill="#3a9fe0"/>
<path d="M673.3 264.4C670.2 267.1 659.5 276.3 654.8 280.9C650.1 285.5 647.6 288.8 645 292C642.4 295.2 641.1 296 639 300C636.9 304 633.8 310.2 632.6 315.8C631.4 321.4 631.5 326.4 632 333.3C632.5 340.2 633.8 349.3 635.8 357C637.8 364.7 641.7 372.9 643.9 379.3C646.1 385.7 648.3 392.9 649.2 395.6" fill="none" stroke="#111" stroke-width="1.1" />
<polygon points="632.2,335.9 634.3,332.6 632,333.8 629.6,333.1" fill="#111"/>
<path d="M675.9 275.3C674.2 276.9 668.7 281.9 666 285C663.3 288.1 662.2 289.5 659.6 293.6C657 297.7 652.2 304.1 650.1 309.4C648 314.7 647.4 320 646.9 325.3C646.4 330.6 646.3 334.3 646.9 341.2C647.5 348.1 649.2 357.5 650.4 366.6C651.6 375.7 653.6 390.8 654.3 395.6" fill="none" stroke="#111" stroke-width="1.1" />
<polygon points="646.5,335.8 648.9,332.6 646.5,333.7 644.1,332.7" fill="#111"/>
<path d="M522 395.6C523.9 393.2 529.1 385.6 533.5 381C537.9 376.4 543.5 372 548.5 368.2C553.5 364.4 559.5 360.7 563.2 358.4C567 356.1 568.3 355.3 571 354.3C573.7 353.3 576.7 352.5 579.2 352.4C581.7 352.3 584 353.1 586 353.6C588 354.1 589 354.2 591.5 355.6C594 357 596.6 358.2 600.9 361.8C605.2 365.4 611.7 371.4 617.3 377C622.9 382.6 631.5 392.5 634.4 395.6" fill="none" stroke="#3a9fe0" stroke-width="1.1" />
<polygon points="582,352.4 576.9,348.4 578.6,352.4 576.9,356.4" fill="#3a9fe0"/>
<path d="M576.1 311.9L588.5 323.1M588.5 311.9L576.1 323.1" stroke="#e8213a" stroke-width="1.3" fill="none"/>
<text x="7.4" y="197.5" font-size="13" text-anchor="start" font-weight="bold" transform="rotate(0.06 7.4 197.5)" >a1</text>
<text x="236.6" y="197.5" font-size="13" text-anchor="start" font-weight="normal" transform="rotate(0.06 236.6 197.5)" >a2</text>
<text x="463.6" y="198.2" font-size="13" text-anchor="start" font-weight="normal" transform="rotate(0.06 463.6 198.2)" >a3</text>
<text x="10.6" y="420.6" font-size="13" text-anchor="start" font-weight="bold" transform="rotate(0.06 10.6 420.6)" >b1</text>
<text x="239.4" y="420.4" font-size="13" text-anchor="start" font-weight="normal" transform="rotate(0.06 239.4 420.4)" >b2</text>
<text x="466.4" y="420.2" font-size="13" text-anchor="start" font-weight="normal" transform="rotate(0.06 466.4 420.2)" >b3</text>
<text x="53.7" y="189.6" font-size="17" text-anchor="middle" font-weight="normal" transform="rotate(0.06 53.7 189.6)" >+</text>
<text x="191.3" y="189.2" font-size="17" text-anchor="middle" font-weight="normal" transform="rotate(0.06 191.3 189.2)" >+</text>
<text x="283.6" y="189.3" font-size="17" text-anchor="middle" font-weight="normal" transform="rotate(0.06 283.6 189.3)" >+</text>
<text x="421" y="189.2" font-size="17" text-anchor="middle" font-weight="normal" transform="rotate(0.06 421 189.2)" >+</text>
<text x="514" y="189.3" font-size="17" text-anchor="middle" font-weight="normal" transform="rotate(0.06 514 189.3)" >+</text>
<text x="650" y="189.2" font-size="17" text-anchor="middle" font-weight="normal" transform="rotate(0.06 650 189.2)" >+</text>
<text x="53" y="409.2" font-size="17" text-anchor="middle" font-weight="normal" transform="rotate(0.06 53 409.2)" >+</text>
<text x="284" y="409.1" font-size="17" text-anchor="middle" font-weight="normal" transform="rotate(0.06 284 409.1)" >+</text>
<text x="510" y="408.8" font-size="17" text-anchor="middle" font-weight="normal" transform="rotate(0.06 510 408.8)" >+</text>
<text x="122" y="188.3" font-size="17" text-anchor="middle" font-weight="normal" transform="rotate(0.06 122 188.3)" >-</text>
<text x="351.8" y="188.3" font-size="17" text-anchor="middle" font-weight="normal" transform="rotate(0.06 351.8 188.3)" >-</text>
<text x="581" y="188.3" font-size="17" text-anchor="middle" font-weight="normal" transform="rotate(0.06 581 188.3)" >-</text>
<text x="191.5" y="408.1" font-size="17" text-anchor="middle" font-weight="normal" transform="rotate(0.06 191.5 408.1)" >-</text>
<text x="417" y="408.2" font-size="17" text-anchor="middle" font-weight="normal" transform="rotate(0.06 417 408.2)" >-</text>
<text x="647.2" y="408.3" font-size="17" text-anchor="middle" font-weight="normal" transform="rotate(0.06 647.2 408.3)" >-</text>
</svg>
</body></html>
